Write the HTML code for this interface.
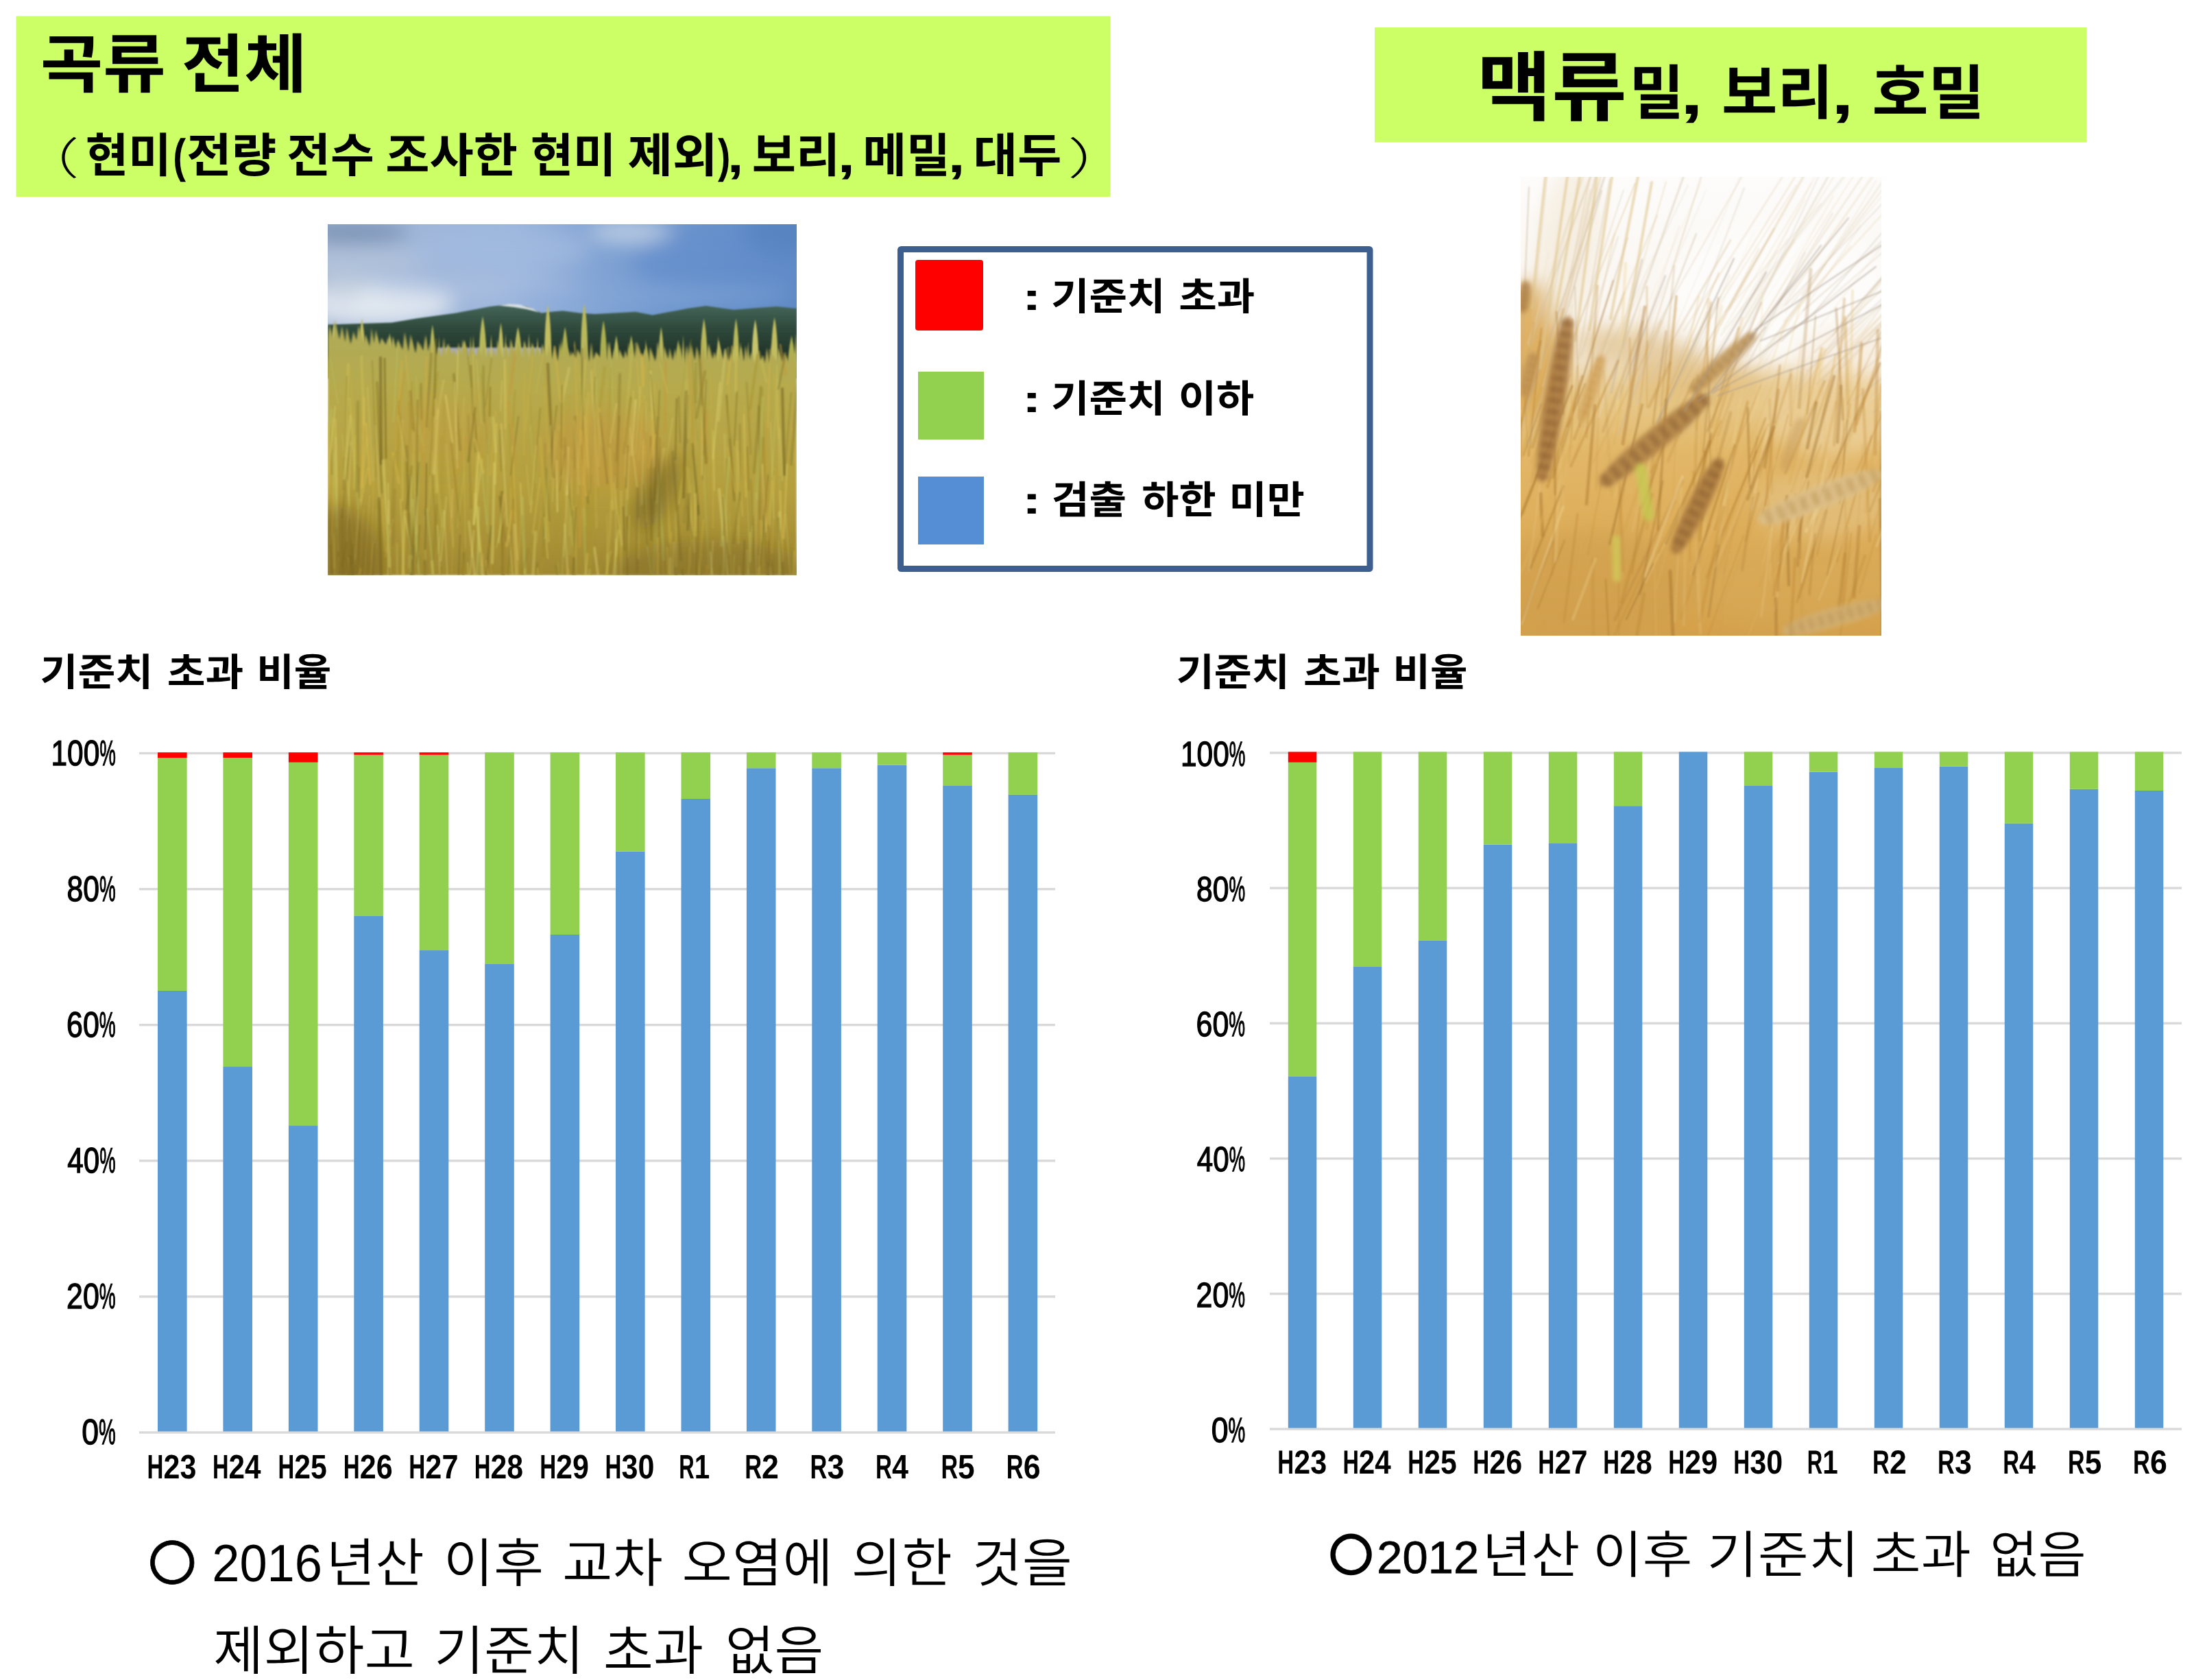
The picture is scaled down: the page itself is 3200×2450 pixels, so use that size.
<!DOCTYPE html>
<html lang="ko"><head><meta charset="utf-8"><title>곡류 전체 / 맥류</title>
<style>html,body{margin:0;padding:0;background:#fff;}body{width:3200px;height:2450px;overflow:hidden;position:relative;}svg{position:absolute;left:0;top:0;display:block;}text{font-family:"Liberation Sans","Noto Sans CJK KR",sans-serif;fill:#000;font-weight:400;text-rendering:geometricPrecision;}.b{font-weight:700;}.ay{stroke:#000;stroke-width:2.6px;}.l{font-weight:300;}.dl{font-weight:350;}.d2{stroke:#000;stroke-width:1.2px;}.c1{stroke:#000;stroke-width:0.5px;}.c2{stroke:#000;stroke-width:1.4px;}</style>
</head><body>
<svg width="3200" height="2450" viewBox="0 0 3200 2450">
<defs>
<clipPath id="c1"><rect x="0" y="0" width="684" height="512"/></clipPath>
<linearGradient id="sk1" x1="0" y1="0" x2="1" y2="0"><stop offset="0" stop-color="#a6b8d4"/><stop offset="0.4" stop-color="#9ab4dc"/><stop offset="0.7" stop-color="#7299cf"/><stop offset="1" stop-color="#5d88c4"/></linearGradient>
<linearGradient id="mt1" x1="0" y1="0" x2="0" y2="1"><stop offset="0" stop-color="#45665a"/><stop offset="0.35" stop-color="#2f4a3c"/><stop offset="1" stop-color="#18241c"/></linearGradient>
<linearGradient id="fd1" x1="0" y1="0" x2="0" y2="1"><stop offset="0" stop-color="#aeab58"/><stop offset="0.3" stop-color="#b7a94c"/><stop offset="0.65" stop-color="#b59f3e"/><stop offset="1" stop-color="#a08832"/></linearGradient>
<filter id="bl14" x="-30%" y="-30%" width="160%" height="160%"><feGaussianBlur stdDeviation="14"/></filter>
<filter id="bl6" x="-30%" y="-30%" width="160%" height="160%"><feGaussianBlur stdDeviation="6"/></filter>
<filter id="bl3" x="-20%" y="-20%" width="140%" height="140%"><feGaussianBlur stdDeviation="3"/></filter>
<filter id="bl2" x="-10%" y="-10%" width="120%" height="120%"><feGaussianBlur stdDeviation="1.6"/></filter>
<filter id="bl1" x="-10%" y="-10%" width="120%" height="120%"><feGaussianBlur stdDeviation="0.9"/></filter>
<clipPath id="c2"><rect x="0" y="0" width="526" height="669"/></clipPath>
<linearGradient id="bg2" x1="0" y1="0" x2="0" y2="1"><stop offset="0" stop-color="#fdfcfb"/><stop offset="0.3" stop-color="#faf6f0"/><stop offset="0.40" stop-color="#f1e2c8"/><stop offset="0.47" stop-color="#e9cc90"/><stop offset="0.6" stop-color="#e2b768"/><stop offset="0.85" stop-color="#dcaa54"/><stop offset="1" stop-color="#d5a04a"/></linearGradient>
</defs>
<rect x="23.5" y="23.5" width="1596" height="263.5" fill="#ccff66"/>
<rect x="2005" y="40" width="1038.5" height="167.5" fill="#ccff66"/>
<g transform="translate(478,327)" clip-path="url(#c1)">
<rect width="684" height="200" fill="url(#sk1)"/>
<g filter="url(#bl14)">
<ellipse cx="37" cy="12" rx="81" ry="19" fill="#7890b4" opacity="0.85"/>
<ellipse cx="47" cy="53" rx="103" ry="19" fill="#b4c4dc" opacity="0.80"/>
<ellipse cx="72" cy="115" rx="112" ry="31" fill="#e3e9f1" opacity="0.97"/>
<ellipse cx="19" cy="94" rx="37" ry="19" fill="#c5cfdf" opacity="0.80"/>
<ellipse cx="249" cy="37" rx="131" ry="34" fill="#a2bbe0" opacity="0.70"/>
<ellipse cx="443" cy="12" rx="62" ry="16" fill="#c2d0e4" opacity="0.90"/>
<ellipse cx="218" cy="94" rx="156" ry="19" fill="#b3c6e4" opacity="0.50"/>
<ellipse cx="577" cy="53" rx="131" ry="50" fill="#628ecb" opacity="0.60"/>
<ellipse cx="670" cy="9" rx="62" ry="37" fill="#5480be" opacity="0.60"/>
<ellipse cx="468" cy="103" rx="218" ry="12" fill="#86a8d8" opacity="0.60"/>
</g>
<polygon points="0.0,146.5 46.8,145.0 93.5,143.4 130.9,137.2 187.1,129.4 236.9,120.0 265.0,116.9 289.9,120.0 311.8,129.4 330.5,127.2 342.9,126.3 367.9,129.4 389.7,130.9 417.8,129.4 448.9,127.8 473.9,132.5 498.8,127.8 523.8,123.1 551.8,119.1 573.6,122.2 592.3,124.7 623.5,122.2 654.7,120.0 684.0,123.1 684,215 0,215" fill="url(#mt1)" filter="url(#bl1)"/>
<polygon points="249.4,118.5 265.0,116.0 280.6,117.2 299.3,123.1 308.6,128.4 289.9,124.1 271.2,121.0" fill="#eef2f8" opacity="0.85" filter="url(#bl1)"/>
<rect x="160" y="180" width="152" height="16" fill="#a9abc0" filter="url(#bl2)"/>
<g filter="url(#bl1)">
<path d="M9.4,141.9 Q15.5,171.9 14.3,225.0 L4.4,225.0 Q3.2,171.9 9.4,141.9 Z" fill="#c8c46c"/>
<path d="M49.9,137.2 Q56.0,167.2 54.8,225.0 L45.0,225.0 Q43.8,167.2 49.9,137.2 Z" fill="#c2bd60"/>
<path d="M71.7,162.1 Q77.2,192.1 76.1,225.0 L67.3,225.0 Q66.2,192.1 71.7,162.1 Z" fill="#c8c46c"/>
<path d="M90.4,159.0 Q97.0,189.0 95.7,225.0 L85.2,225.0 Q83.8,189.0 90.4,159.0 Z" fill="#c2bd60"/>
<path d="M121.6,174.6 Q126.8,204.6 125.8,225.0 L117.4,225.0 Q116.4,204.6 121.6,174.6 Z" fill="#adb050"/>
<path d="M152.8,146.5 Q158.1,176.5 157.0,225.0 L148.5,225.0 Q147.4,176.5 152.8,146.5 Z" fill="#b9b95c"/>
<path d="M174.6,174.6 Q181.1,204.6 179.8,225.0 L169.4,225.0 Q168.1,204.6 174.6,174.6 Z" fill="#c8c46c"/>
<path d="M199.5,168.4 Q206.9,198.4 205.5,225.0 L193.6,225.0 Q192.1,198.4 199.5,168.4 Z" fill="#c2bd60"/>
<path d="M226.0,134.1 Q232.6,164.1 231.3,225.0 L220.8,225.0 Q219.5,164.1 226.0,134.1 Z" fill="#b9b95c"/>
<path d="M252.5,143.4 Q257.7,173.4 256.6,225.0 L248.4,225.0 Q247.4,173.4 252.5,143.4 Z" fill="#c2bd60"/>
<path d="M277.5,149.6 Q284.7,179.6 283.2,225.0 L271.7,225.0 Q270.3,179.6 277.5,149.6 Z" fill="#b9b95c"/>
<path d="M299.3,174.6 Q306.2,204.6 304.8,225.0 L293.7,225.0 Q292.3,204.6 299.3,174.6 Z" fill="#adb050"/>
<path d="M321.1,116.9 Q327.2,146.9 326.0,225.0 L316.2,225.0 Q315.0,146.9 321.1,116.9 Z" fill="#c2bd60"/>
<path d="M346.1,149.6 Q352.4,179.6 351.1,225.0 L341.0,225.0 Q339.8,179.6 346.1,149.6 Z" fill="#adb050"/>
<path d="M374.1,115.4 Q380.4,145.4 379.1,225.0 L369.1,225.0 Q367.9,145.4 374.1,115.4 Z" fill="#b9b95c"/>
<path d="M402.2,140.3 Q408.3,170.3 407.1,225.0 L397.3,225.0 Q396.0,170.3 402.2,140.3 Z" fill="#adb050"/>
<path d="M420.9,162.1 Q426.9,192.1 425.7,225.0 L416.1,225.0 Q414.9,192.1 420.9,162.1 Z" fill="#b9b95c"/>
<path d="M442.7,162.1 Q449.5,192.1 448.1,225.0 L437.3,225.0 Q435.9,192.1 442.7,162.1 Z" fill="#adb050"/>
<path d="M464.5,174.6 Q471.4,204.6 470.0,225.0 L459.0,225.0 Q457.6,204.6 464.5,174.6 Z" fill="#adb050"/>
<path d="M486.3,149.6 Q491.4,179.6 490.4,225.0 L482.3,225.0 Q481.3,179.6 486.3,149.6 Z" fill="#b9b95c"/>
<path d="M511.3,168.4 Q517.3,198.4 516.1,225.0 L506.5,225.0 Q505.3,198.4 511.3,168.4 Z" fill="#adb050"/>
<path d="M548.7,137.2 Q554.7,167.2 553.5,225.0 L543.9,225.0 Q542.7,167.2 548.7,137.2 Z" fill="#b9b95c"/>
<path d="M570.5,168.4 Q577.6,198.4 576.2,225.0 L564.8,225.0 Q563.4,198.4 570.5,168.4 Z" fill="#b9b95c"/>
<path d="M595.5,137.2 Q601.0,167.2 599.9,225.0 L591.0,225.0 Q589.9,167.2 595.5,137.2 Z" fill="#b9b95c"/>
<path d="M623.5,138.7 Q629.7,168.7 628.5,225.0 L618.6,225.0 Q617.3,168.7 623.5,138.7 Z" fill="#c8c46c"/>
<path d="M651.6,135.6 Q657.6,165.6 656.4,225.0 L646.7,225.0 Q645.5,165.6 651.6,135.6 Z" fill="#c2bd60"/>
<path d="M676.5,162.1 Q683.5,192.1 682.1,225.0 L671.0,225.0 Q669.6,192.1 676.5,162.1 Z" fill="#adb050"/>
<path d="M230.4,168.6 L233.5,225.0 L227.4,225.0 Z" fill="#c6bd62"/>
<path d="M518.5,162.0 L522.0,225.0 L515.0,225.0 Z" fill="#b5b055"/>
<path d="M7.5,173.8 L11.5,225.0 L3.5,225.0 Z" fill="#bfb85e"/>
<path d="M306.0,164.5 L310.5,225.0 L301.6,225.0 Z" fill="#bfb85e"/>
<path d="M286.8,171.0 L290.5,225.0 L283.0,225.0 Z" fill="#bfb85e"/>
<path d="M0.3,187.4 L5.3,225.0 L-4.6,225.0 Z" fill="#a8a448"/>
<path d="M682.6,158.7 L685.9,225.0 L679.2,225.0 Z" fill="#b5b055"/>
<path d="M28.8,163.0 L32.7,225.0 L24.9,225.0 Z" fill="#b5b055"/>
<path d="M528.5,169.2 L532.1,225.0 L524.9,225.0 Z" fill="#b5b055"/>
<path d="M50.8,165.1 L55.1,225.0 L46.5,225.0 Z" fill="#b5b055"/>
<path d="M411.3,170.6 L415.2,225.0 L407.4,225.0 Z" fill="#c6bd62"/>
<path d="M569.3,162.6 L573.1,225.0 L565.6,225.0 Z" fill="#bfb85e"/>
<path d="M212.6,165.8 L216.8,225.0 L208.4,225.0 Z" fill="#bfb85e"/>
<path d="M108.4,179.4 L112.5,225.0 L104.3,225.0 Z" fill="#c6bd62"/>
<path d="M603.4,178.5 L607.3,225.0 L599.6,225.0 Z" fill="#b5b055"/>
<path d="M74.6,175.4 L78.1,225.0 L71.1,225.0 Z" fill="#c6bd62"/>
<path d="M175.8,186.0 L180.0,225.0 L171.6,225.0 Z" fill="#a8a448"/>
<path d="M355.7,189.6 L360.7,225.0 L350.8,225.0 Z" fill="#bfb85e"/>
<path d="M156.2,177.0 L160.9,225.0 L151.5,225.0 Z" fill="#b5b055"/>
<path d="M191.7,189.2 L195.1,225.0 L188.3,225.0 Z" fill="#b5b055"/>
<path d="M47.3,172.0 L50.8,225.0 L43.8,225.0 Z" fill="#b5b055"/>
<path d="M120.6,170.5 L124.7,225.0 L116.4,225.0 Z" fill="#bfb85e"/>
<path d="M63.1,162.7 L67.0,225.0 L59.2,225.0 Z" fill="#a8a448"/>
<path d="M449.3,181.5 L453.5,225.0 L445.2,225.0 Z" fill="#bfb85e"/>
<path d="M403.5,189.4 L407.4,225.0 L399.5,225.0 Z" fill="#a8a448"/>
<path d="M479.5,190.7 L482.5,225.0 L476.4,225.0 Z" fill="#b5b055"/>
<path d="M329.8,182.8 L333.5,225.0 L326.2,225.0 Z" fill="#b5b055"/>
<path d="M51.5,176.6 L56.0,225.0 L47.0,225.0 Z" fill="#bfb85e"/>
<path d="M542.6,189.1 L546.3,225.0 L538.9,225.0 Z" fill="#c6bd62"/>
<path d="M616.2,187.6 L620.0,225.0 L612.3,225.0 Z" fill="#b5b055"/>
<path d="M590.6,177.5 L594.9,225.0 L586.4,225.0 Z" fill="#c6bd62"/>
<path d="M259.4,158.4 L262.5,225.0 L256.2,225.0 Z" fill="#b5b055"/>
<path d="M437.4,191.8 L442.1,225.0 L432.6,225.0 Z" fill="#a8a448"/>
<path d="M265.7,183.0 L269.9,225.0 L261.5,225.0 Z" fill="#c6bd62"/>
<path d="M316.4,176.4 L320.5,225.0 L312.4,225.0 Z" fill="#b5b055"/>
<path d="M212.2,161.0 L215.2,225.0 L209.2,225.0 Z" fill="#b5b055"/>
<path d="M340.1,178.9 L345.0,225.0 L335.3,225.0 Z" fill="#a8a448"/>
<path d="M613.2,170.5 L616.4,225.0 L609.9,225.0 Z" fill="#bfb85e"/>
<path d="M354.6,183.6 L358.3,225.0 L350.9,225.0 Z" fill="#c6bd62"/>
<path d="M340.8,166.2 L344.7,225.0 L337.0,225.0 Z" fill="#a8a448"/>
<path d="M135.8,172.7 L140.4,225.0 L131.2,225.0 Z" fill="#bfb85e"/>
<path d="M602.1,171.1 L606.3,225.0 L597.9,225.0 Z" fill="#a8a448"/>
<path d="M143.6,162.6 L147.3,225.0 L139.9,225.0 Z" fill="#b5b055"/>
<path d="M486.5,190.3 L490.0,225.0 L482.9,225.0 Z" fill="#bfb85e"/>
<path d="M77.2,174.0 L82.0,225.0 L72.3,225.0 Z" fill="#c6bd62"/>
<path d="M261.7,175.7 L266.0,225.0 L257.3,225.0 Z" fill="#c6bd62"/>
<path d="M219.1,186.2 L222.7,225.0 L215.6,225.0 Z" fill="#b5b055"/>
<path d="M463.9,167.6 L467.6,225.0 L460.2,225.0 Z" fill="#b5b055"/>
<path d="M438.4,171.8 L441.8,225.0 L435.1,225.0 Z" fill="#a8a448"/>
<path d="M162.4,162.8 L165.5,225.0 L159.3,225.0 Z" fill="#b5b055"/>
<path d="M305.4,179.4 L309.7,225.0 L301.1,225.0 Z" fill="#a8a448"/>
<path d="M655.6,181.3 L659.0,225.0 L652.2,225.0 Z" fill="#c6bd62"/>
<path d="M175.1,182.3 L179.6,225.0 L170.6,225.0 Z" fill="#b5b055"/>
<path d="M122.5,167.3 L126.2,225.0 L118.8,225.0 Z" fill="#bfb85e"/>
<path d="M269.2,184.9 L274.0,225.0 L264.4,225.0 Z" fill="#b5b055"/>
<path d="M280.8,188.4 L284.5,225.0 L277.0,225.0 Z" fill="#c6bd62"/>
<path d="M310.2,179.3 L315.0,225.0 L305.4,225.0 Z" fill="#c6bd62"/>
<path d="M376.2,180.2 L380.2,225.0 L372.2,225.0 Z" fill="#a8a448"/>
<path d="M317.2,180.1 L320.6,225.0 L313.8,225.0 Z" fill="#b5b055"/>
<path d="M145.9,188.6 L150.9,225.0 L140.9,225.0 Z" fill="#a8a448"/>
<path d="M367.3,184.9 L370.9,225.0 L363.6,225.0 Z" fill="#b5b055"/>
<path d="M238.4,160.8 L242.3,225.0 L234.5,225.0 Z" fill="#c6bd62"/>
<path d="M525.5,174.6 L528.5,225.0 L522.4,225.0 Z" fill="#b5b055"/>
<path d="M293.4,159.2 L297.5,225.0 L289.3,225.0 Z" fill="#bfb85e"/>
<path d="M321.9,192.0 L326.7,225.0 L317.1,225.0 Z" fill="#c6bd62"/>
<path d="M646.9,174.7 L651.8,225.0 L642.0,225.0 Z" fill="#b5b055"/>
<path d="M518.4,172.9 L522.5,225.0 L514.2,225.0 Z" fill="#bfb85e"/>
<path d="M357.6,186.7 L361.7,225.0 L353.5,225.0 Z" fill="#a8a448"/>
<path d="M459.2,190.5 L463.9,225.0 L454.4,225.0 Z" fill="#bfb85e"/>
<path d="M208.2,162.8 L212.3,225.0 L204.2,225.0 Z" fill="#a8a448"/>
</g>
<polygon points="0.0,166.6 2.4,146.4 8.5,168.1 10.6,139.8 17.1,167.8 20.7,148.4 25.6,171.4 27.7,150.1 33.6,174.7 37.5,156.2 42.0,169.3 44.9,147.6 52.5,173.7 55.1,160.4 61.6,178.6 63.8,151.2 67.7,173.7 70.1,153.8 75.3,176.1 78.5,165.4 85.0,175.7 88.0,164.2 91.9,180.0 94.8,163.0 100.0,181.2 102.3,167.3 109.2,183.5 112.2,157.1 118.2,186.6 120.7,160.4 128.3,188.5 130.9,169.6 138.9,184.6 142.9,160.9 145.6,185.7 149.0,173.2 152.0,194.8 154.9,167.9 158.7,191.5 162.0,181.9 165.7,193.9 169.5,165.0 172.3,192.6 175.8,173.5 181.7,190.2 183.8,180.8 187.9,193.3 190.9,172.6 194.6,190.5 197.0,167.9 205.6,196.6 207.8,182.1 216.3,193.1 219.8,177.5 224.7,193.7 227.5,172.8 230.7,195.3 234.4,180.5 239.0,195.8 241.8,180.4 245.8,194.1 247.8,168.0 255.8,195.9 259.5,172.9 263.8,195.2 266.9,166.7 273.9,192.7 277.7,171.2 283.8,197.3 286.6,168.7 294.2,196.6 297.7,171.2 302.2,197.0 304.3,179.0 310.5,191.4 313.2,173.9 319.7,193.4 323.5,173.6 327.3,197.0 330.5,176.1 335.3,199.9 338.6,173.2 345.1,199.9 347.1,175.0 354.8,194.3 357.6,185.4 361.8,195.4 364.0,181.9 372.3,197.0 375.3,169.2 381.1,200.8 384.4,172.2 387.5,197.7 391.0,186.1 398.2,194.4 401.1,184.1 406.6,198.2 408.8,170.3 414.7,197.7 417.9,180.9 422.2,198.9 425.3,182.5 431.8,196.2 433.8,183.4 438.0,195.2 441.5,180.9 448.5,200.2 450.6,170.4 459.2,195.0 463.0,180.7 467.6,202.4 470.1,179.1 478.3,200.6 481.2,171.2 488.3,199.8 490.6,177.8 496.6,196.8 498.7,179.7 503.2,198.8 506.6,181.1 510.6,200.1 513.4,175.4 519.2,203.6 523.1,176.4 526.4,196.7 530.2,175.7 535.5,198.8 538.1,177.6 544.3,200.9 547.6,176.6 551.3,198.3 555.3,173.8 561.7,196.8 563.8,185.6 569.8,201.6 572.0,180.9 576.2,197.5 579.5,180.9 585.3,200.0 588.3,187.2 593.1,203.1 596.7,189.8 599.7,203.7 602.9,177.4 606.7,200.8 609.2,176.8 614.6,202.8 618.5,185.7 623.3,203.7 627.1,184.1 631.2,198.7 634.9,190.5 637.6,202.6 640.5,179.7 645.1,204.4 647.2,188.4 654.4,199.0 657.0,179.3 663.8,200.9 666.1,186.1 673.5,201.7 675.7,180.0 682.3,206.3 686.2,176.5 684.0,200.0 684,512 0,512" fill="url(#fd1)" filter="url(#bl2)"/>
<g filter="url(#bl1)" stroke-linecap="round">
<line x1="553" y1="271" x2="551" y2="352" stroke="#c49a3a" stroke-width="4.2" opacity="0.30"/>
<line x1="246" y1="291" x2="244" y2="378" stroke="#d6c458" stroke-width="3.9" opacity="0.46"/>
<line x1="251" y1="300" x2="253" y2="360" stroke="#8a7a2a" stroke-width="2.0" opacity="0.47"/>
<line x1="607" y1="263" x2="608" y2="306" stroke="#c9b044" stroke-width="2.0" opacity="0.32"/>
<line x1="11" y1="452" x2="12" y2="547" stroke="#cfc058" stroke-width="3.9" opacity="0.25"/>
<line x1="52" y1="416" x2="42" y2="573" stroke="#d9b84c" stroke-width="3.5" opacity="0.25"/>
<line x1="562" y1="310" x2="562" y2="443" stroke="#c9b044" stroke-width="2.5" opacity="0.37"/>
<line x1="239" y1="440" x2="230" y2="523" stroke="#6f601f" stroke-width="3.1" opacity="0.46"/>
<line x1="487" y1="476" x2="495" y2="570" stroke="#d9b84c" stroke-width="2.5" opacity="0.22"/>
<line x1="258" y1="198" x2="259" y2="298" stroke="#d8cf6a" stroke-width="3.1" opacity="0.45"/>
<line x1="553" y1="310" x2="544" y2="405" stroke="#c49a3a" stroke-width="2.0" opacity="0.43"/>
<line x1="470" y1="276" x2="471" y2="367" stroke="#cfc058" stroke-width="4.4" opacity="0.24"/>
<line x1="209" y1="207" x2="216" y2="331" stroke="#8a7a2a" stroke-width="4.2" opacity="0.47"/>
<line x1="7" y1="330" x2="2" y2="474" stroke="#7d6c24" stroke-width="2.1" opacity="0.29"/>
<line x1="159" y1="410" x2="152" y2="527" stroke="#8a7a2a" stroke-width="4.2" opacity="0.35"/>
<line x1="628" y1="484" x2="639" y2="605" stroke="#c9b044" stroke-width="2.9" opacity="0.31"/>
<line x1="612" y1="476" x2="613" y2="561" stroke="#e0d478" stroke-width="2.9" opacity="0.29"/>
<line x1="30" y1="487" x2="27" y2="631" stroke="#c9b044" stroke-width="3.9" opacity="0.48"/>
<line x1="542" y1="188" x2="552" y2="348" stroke="#6f601f" stroke-width="4.2" opacity="0.37"/>
<line x1="166" y1="310" x2="164" y2="464" stroke="#a8962f" stroke-width="1.9" opacity="0.52"/>
<line x1="558" y1="212" x2="561" y2="349" stroke="#c9b044" stroke-width="3.1" opacity="0.27"/>
<line x1="530" y1="168" x2="539" y2="315" stroke="#8a7a2a" stroke-width="1.7" opacity="0.31"/>
<line x1="493" y1="201" x2="492" y2="303" stroke="#c49a3a" stroke-width="3.3" opacity="0.50"/>
<line x1="206" y1="434" x2="216" y2="528" stroke="#e0d478" stroke-width="3.8" opacity="0.37"/>
<line x1="21" y1="307" x2="32" y2="411" stroke="#cfc058" stroke-width="2.4" opacity="0.35"/>
<line x1="382" y1="504" x2="371" y2="631" stroke="#e0d478" stroke-width="3.6" opacity="0.25"/>
<line x1="269" y1="324" x2="277" y2="489" stroke="#d9b84c" stroke-width="2.8" opacity="0.51"/>
<line x1="490" y1="328" x2="480" y2="406" stroke="#d8cf6a" stroke-width="4.1" opacity="0.50"/>
<line x1="495" y1="472" x2="498" y2="532" stroke="#c9b044" stroke-width="3.7" opacity="0.53"/>
<line x1="520" y1="355" x2="512" y2="407" stroke="#d6c458" stroke-width="3.7" opacity="0.33"/>
<line x1="652" y1="358" x2="648" y2="492" stroke="#d6c458" stroke-width="1.8" opacity="0.27"/>
<line x1="61" y1="396" x2="53" y2="528" stroke="#d6c458" stroke-width="1.6" opacity="0.37"/>
<line x1="484" y1="202" x2="496" y2="246" stroke="#d6c458" stroke-width="2.7" opacity="0.24"/>
<line x1="635" y1="312" x2="638" y2="418" stroke="#8a7a2a" stroke-width="4.0" opacity="0.35"/>
<line x1="225" y1="307" x2="223" y2="349" stroke="#c49a3a" stroke-width="2.5" opacity="0.48"/>
<line x1="165" y1="500" x2="160" y2="609" stroke="#7d6c24" stroke-width="2.5" opacity="0.43"/>
<line x1="69" y1="295" x2="76" y2="401" stroke="#e0d478" stroke-width="3.3" opacity="0.27"/>
<line x1="528" y1="472" x2="524" y2="584" stroke="#c9b044" stroke-width="3.0" opacity="0.41"/>
<line x1="133" y1="483" x2="138" y2="652" stroke="#7d6c24" stroke-width="3.2" opacity="0.23"/>
<line x1="453" y1="430" x2="453" y2="487" stroke="#d6c458" stroke-width="3.6" opacity="0.33"/>
<line x1="641" y1="290" x2="632" y2="390" stroke="#c49a3a" stroke-width="1.9" opacity="0.52"/>
<line x1="373" y1="357" x2="367" y2="470" stroke="#c49a3a" stroke-width="4.5" opacity="0.49"/>
<line x1="413" y1="209" x2="408" y2="357" stroke="#a8962f" stroke-width="2.2" opacity="0.41"/>
<line x1="572" y1="231" x2="562" y2="342" stroke="#d8cf6a" stroke-width="2.7" opacity="0.48"/>
<line x1="641" y1="505" x2="647" y2="563" stroke="#c49a3a" stroke-width="4.2" opacity="0.42"/>
<line x1="440" y1="425" x2="438" y2="486" stroke="#d8cf6a" stroke-width="1.9" opacity="0.35"/>
<line x1="391" y1="227" x2="385" y2="334" stroke="#b9c060" stroke-width="4.3" opacity="0.24"/>
<line x1="540" y1="411" x2="538" y2="554" stroke="#6f601f" stroke-width="3.3" opacity="0.38"/>
<line x1="281" y1="378" x2="287" y2="508" stroke="#cfc058" stroke-width="3.0" opacity="0.55"/>
<line x1="578" y1="456" x2="576" y2="549" stroke="#b9c060" stroke-width="1.8" opacity="0.53"/>
<line x1="225" y1="343" x2="213" y2="438" stroke="#d8cf6a" stroke-width="2.4" opacity="0.42"/>
<line x1="296" y1="295" x2="303" y2="377" stroke="#b9c060" stroke-width="4.1" opacity="0.30"/>
<line x1="582" y1="250" x2="593" y2="403" stroke="#6f601f" stroke-width="3.6" opacity="0.39"/>
<line x1="161" y1="271" x2="155" y2="363" stroke="#e0d478" stroke-width="4.5" opacity="0.46"/>
<line x1="601" y1="292" x2="602" y2="403" stroke="#8a7a2a" stroke-width="2.2" opacity="0.47"/>
<line x1="389" y1="472" x2="396" y2="525" stroke="#e0d478" stroke-width="4.1" opacity="0.41"/>
<line x1="310" y1="268" x2="299" y2="402" stroke="#8a7a2a" stroke-width="1.7" opacity="0.52"/>
<line x1="562" y1="302" x2="564" y2="388" stroke="#d8cf6a" stroke-width="2.4" opacity="0.37"/>
<line x1="213" y1="277" x2="220" y2="336" stroke="#6f601f" stroke-width="4.1" opacity="0.29"/>
<line x1="592" y1="401" x2="588" y2="449" stroke="#a8962f" stroke-width="4.2" opacity="0.23"/>
<line x1="437" y1="403" x2="437" y2="516" stroke="#7d6c24" stroke-width="2.1" opacity="0.51"/>
<line x1="30" y1="204" x2="25" y2="338" stroke="#cfc058" stroke-width="4.1" opacity="0.46"/>
<line x1="89" y1="403" x2="87" y2="564" stroke="#e0d478" stroke-width="2.0" opacity="0.50"/>
<line x1="79" y1="401" x2="84" y2="476" stroke="#c9b044" stroke-width="3.5" opacity="0.48"/>
<line x1="254" y1="391" x2="256" y2="546" stroke="#7d6c24" stroke-width="4.4" opacity="0.52"/>
<line x1="120" y1="244" x2="125" y2="301" stroke="#6f601f" stroke-width="4.4" opacity="0.37"/>
<line x1="362" y1="347" x2="365" y2="393" stroke="#cfc058" stroke-width="3.1" opacity="0.36"/>
<line x1="390" y1="223" x2="383" y2="392" stroke="#8a7a2a" stroke-width="2.3" opacity="0.40"/>
<line x1="125" y1="470" x2="113" y2="639" stroke="#6f601f" stroke-width="4.2" opacity="0.41"/>
<line x1="-3" y1="468" x2="-14" y2="516" stroke="#d9b84c" stroke-width="4.2" opacity="0.33"/>
<line x1="331" y1="179" x2="339" y2="257" stroke="#d9b84c" stroke-width="3.6" opacity="0.39"/>
<line x1="656" y1="227" x2="648" y2="368" stroke="#b9c060" stroke-width="2.8" opacity="0.44"/>
<line x1="376" y1="254" x2="381" y2="387" stroke="#cfc058" stroke-width="3.0" opacity="0.29"/>
<line x1="398" y1="336" x2="400" y2="381" stroke="#c49a3a" stroke-width="1.7" opacity="0.37"/>
<line x1="607" y1="278" x2="610" y2="397" stroke="#d6c458" stroke-width="3.0" opacity="0.46"/>
<line x1="590" y1="178" x2="583" y2="233" stroke="#d9b84c" stroke-width="3.1" opacity="0.48"/>
<line x1="160" y1="217" x2="149" y2="298" stroke="#a8962f" stroke-width="4.0" opacity="0.46"/>
<line x1="538" y1="426" x2="541" y2="531" stroke="#c9b044" stroke-width="2.0" opacity="0.30"/>
<line x1="106" y1="401" x2="113" y2="549" stroke="#d8cf6a" stroke-width="2.4" opacity="0.37"/>
<line x1="481" y1="405" x2="472" y2="570" stroke="#b9c060" stroke-width="4.5" opacity="0.27"/>
<line x1="311" y1="419" x2="305" y2="464" stroke="#c9b044" stroke-width="1.9" opacity="0.35"/>
<line x1="202" y1="311" x2="191" y2="361" stroke="#c49a3a" stroke-width="3.8" opacity="0.46"/>
<line x1="155" y1="253" x2="149" y2="365" stroke="#6f601f" stroke-width="1.8" opacity="0.29"/>
<line x1="210" y1="487" x2="203" y2="647" stroke="#8a7a2a" stroke-width="2.7" opacity="0.43"/>
<line x1="36" y1="284" x2="44" y2="414" stroke="#b9c060" stroke-width="4.3" opacity="0.28"/>
<line x1="593" y1="483" x2="590" y2="551" stroke="#d8cf6a" stroke-width="2.1" opacity="0.33"/>
<line x1="123" y1="353" x2="115" y2="415" stroke="#7d6c24" stroke-width="3.3" opacity="0.47"/>
<line x1="323" y1="333" x2="316" y2="455" stroke="#6f601f" stroke-width="2.1" opacity="0.35"/>
<line x1="46" y1="401" x2="40" y2="488" stroke="#d8cf6a" stroke-width="3.1" opacity="0.46"/>
<line x1="351" y1="359" x2="344" y2="484" stroke="#e0d478" stroke-width="2.6" opacity="0.27"/>
<line x1="646" y1="289" x2="651" y2="429" stroke="#e0d478" stroke-width="1.6" opacity="0.33"/>
<line x1="262" y1="196" x2="258" y2="351" stroke="#c9b044" stroke-width="3.5" opacity="0.32"/>
<line x1="418" y1="333" x2="418" y2="397" stroke="#8a7a2a" stroke-width="1.6" opacity="0.32"/>
<line x1="290" y1="351" x2="295" y2="409" stroke="#cfc058" stroke-width="2.4" opacity="0.37"/>
<line x1="257" y1="465" x2="258" y2="613" stroke="#6f601f" stroke-width="2.7" opacity="0.35"/>
<line x1="597" y1="244" x2="593" y2="322" stroke="#7d6c24" stroke-width="1.9" opacity="0.50"/>
<line x1="514" y1="331" x2="521" y2="372" stroke="#c49a3a" stroke-width="2.4" opacity="0.44"/>
<line x1="634" y1="241" x2="638" y2="370" stroke="#a8962f" stroke-width="2.2" opacity="0.43"/>
<line x1="57" y1="312" x2="47" y2="403" stroke="#d6c458" stroke-width="4.3" opacity="0.31"/>
<line x1="484" y1="243" x2="477" y2="403" stroke="#8a7a2a" stroke-width="2.6" opacity="0.46"/>
<line x1="357" y1="418" x2="364" y2="576" stroke="#6f601f" stroke-width="3.2" opacity="0.45"/>
<line x1="379" y1="404" x2="377" y2="447" stroke="#a8962f" stroke-width="4.2" opacity="0.52"/>
<line x1="184" y1="295" x2="179" y2="445" stroke="#c49a3a" stroke-width="2.5" opacity="0.30"/>
<line x1="11" y1="285" x2="13" y2="441" stroke="#cfc058" stroke-width="3.9" opacity="0.51"/>
<line x1="441" y1="298" x2="451" y2="382" stroke="#d8cf6a" stroke-width="3.2" opacity="0.53"/>
<line x1="531" y1="379" x2="529" y2="500" stroke="#d6c458" stroke-width="1.7" opacity="0.24"/>
<line x1="317" y1="320" x2="315" y2="485" stroke="#8a7a2a" stroke-width="3.6" opacity="0.31"/>
<line x1="339" y1="327" x2="342" y2="370" stroke="#cfc058" stroke-width="2.2" opacity="0.44"/>
<line x1="158" y1="168" x2="155" y2="279" stroke="#7d6c24" stroke-width="3.1" opacity="0.50"/>
<line x1="527" y1="195" x2="536" y2="342" stroke="#c49a3a" stroke-width="4.4" opacity="0.33"/>
<line x1="236" y1="467" x2="241" y2="547" stroke="#c49a3a" stroke-width="2.7" opacity="0.27"/>
<line x1="129" y1="222" x2="133" y2="306" stroke="#b9c060" stroke-width="2.4" opacity="0.36"/>
<line x1="250" y1="393" x2="253" y2="498" stroke="#a8962f" stroke-width="2.5" opacity="0.28"/>
<line x1="352" y1="210" x2="342" y2="259" stroke="#e0d478" stroke-width="4.2" opacity="0.32"/>
<line x1="585" y1="341" x2="574" y2="469" stroke="#b9c060" stroke-width="4.1" opacity="0.51"/>
<line x1="32" y1="254" x2="39" y2="360" stroke="#d6c458" stroke-width="2.3" opacity="0.43"/>
<line x1="251" y1="398" x2="259" y2="462" stroke="#7d6c24" stroke-width="4.0" opacity="0.49"/>
<line x1="389" y1="310" x2="392" y2="442" stroke="#cfc058" stroke-width="3.9" opacity="0.26"/>
<line x1="257" y1="394" x2="249" y2="464" stroke="#d8cf6a" stroke-width="2.9" opacity="0.45"/>
<line x1="545" y1="481" x2="539" y2="555" stroke="#cfc058" stroke-width="3.4" opacity="0.35"/>
<line x1="644" y1="501" x2="649" y2="548" stroke="#e0d478" stroke-width="4.1" opacity="0.28"/>
<line x1="243" y1="349" x2="240" y2="494" stroke="#d8cf6a" stroke-width="4.0" opacity="0.50"/>
<line x1="114" y1="191" x2="123" y2="288" stroke="#d9b84c" stroke-width="2.4" opacity="0.35"/>
<line x1="424" y1="426" x2="422" y2="593" stroke="#c49a3a" stroke-width="2.1" opacity="0.31"/>
<line x1="597" y1="317" x2="599" y2="465" stroke="#cfc058" stroke-width="4.1" opacity="0.36"/>
<line x1="101" y1="466" x2="102" y2="541" stroke="#cfc058" stroke-width="3.4" opacity="0.31"/>
<line x1="153" y1="331" x2="147" y2="418" stroke="#d8cf6a" stroke-width="2.0" opacity="0.22"/>
<line x1="524" y1="394" x2="520" y2="434" stroke="#8a7a2a" stroke-width="4.5" opacity="0.29"/>
<line x1="598" y1="331" x2="605" y2="425" stroke="#d6c458" stroke-width="3.2" opacity="0.29"/>
<line x1="424" y1="447" x2="416" y2="520" stroke="#cfc058" stroke-width="4.1" opacity="0.55"/>
<line x1="303" y1="449" x2="295" y2="583" stroke="#d8cf6a" stroke-width="4.3" opacity="0.40"/>
<line x1="464" y1="259" x2="465" y2="302" stroke="#e0d478" stroke-width="3.0" opacity="0.22"/>
<line x1="141" y1="491" x2="142" y2="533" stroke="#7d6c24" stroke-width="3.9" opacity="0.46"/>
<line x1="272" y1="439" x2="279" y2="586" stroke="#e0d478" stroke-width="4.3" opacity="0.38"/>
<line x1="579" y1="306" x2="582" y2="463" stroke="#d8cf6a" stroke-width="3.2" opacity="0.29"/>
<line x1="265" y1="292" x2="272" y2="418" stroke="#a8962f" stroke-width="3.4" opacity="0.37"/>
<line x1="212" y1="190" x2="214" y2="315" stroke="#cfc058" stroke-width="2.5" opacity="0.46"/>
<line x1="142" y1="418" x2="146" y2="529" stroke="#8a7a2a" stroke-width="2.5" opacity="0.27"/>
<line x1="254" y1="229" x2="252" y2="272" stroke="#d8cf6a" stroke-width="2.7" opacity="0.33"/>
<line x1="368" y1="489" x2="377" y2="556" stroke="#a8962f" stroke-width="1.7" opacity="0.41"/>
<line x1="397" y1="276" x2="408" y2="378" stroke="#6f601f" stroke-width="2.7" opacity="0.45"/>
<line x1="119" y1="260" x2="129" y2="388" stroke="#a8962f" stroke-width="4.1" opacity="0.48"/>
<line x1="360" y1="171" x2="364" y2="306" stroke="#d9b84c" stroke-width="1.7" opacity="0.42"/>
<line x1="234" y1="316" x2="233" y2="449" stroke="#b9c060" stroke-width="4.3" opacity="0.26"/>
<line x1="508" y1="419" x2="508" y2="515" stroke="#d6c458" stroke-width="3.0" opacity="0.34"/>
<line x1="371" y1="182" x2="372" y2="342" stroke="#6f601f" stroke-width="2.8" opacity="0.42"/>
<line x1="408" y1="482" x2="407" y2="542" stroke="#cfc058" stroke-width="3.7" opacity="0.32"/>
<line x1="507" y1="501" x2="516" y2="594" stroke="#8a7a2a" stroke-width="3.8" opacity="0.52"/>
<line x1="72" y1="231" x2="79" y2="391" stroke="#8a7a2a" stroke-width="4.0" opacity="0.48"/>
<line x1="351" y1="503" x2="359" y2="551" stroke="#c49a3a" stroke-width="2.5" opacity="0.39"/>
<line x1="237" y1="238" x2="236" y2="280" stroke="#6f601f" stroke-width="2.3" opacity="0.43"/>
<line x1="46" y1="355" x2="46" y2="497" stroke="#7d6c24" stroke-width="1.7" opacity="0.38"/>
<line x1="34" y1="461" x2="23" y2="628" stroke="#8a7a2a" stroke-width="3.9" opacity="0.28"/>
<line x1="227" y1="481" x2="220" y2="645" stroke="#cfc058" stroke-width="1.9" opacity="0.28"/>
<line x1="265" y1="454" x2="275" y2="574" stroke="#e0d478" stroke-width="1.8" opacity="0.43"/>
<line x1="365" y1="275" x2="376" y2="439" stroke="#c9b044" stroke-width="3.5" opacity="0.36"/>
<line x1="6" y1="282" x2="9" y2="363" stroke="#cfc058" stroke-width="3.5" opacity="0.29"/>
<line x1="141" y1="426" x2="143" y2="489" stroke="#d8cf6a" stroke-width="1.9" opacity="0.26"/>
<line x1="649" y1="374" x2="642" y2="460" stroke="#e0d478" stroke-width="3.6" opacity="0.46"/>
<line x1="245" y1="273" x2="237" y2="366" stroke="#d9b84c" stroke-width="2.3" opacity="0.34"/>
<line x1="421" y1="262" x2="412" y2="319" stroke="#e0d478" stroke-width="2.5" opacity="0.45"/>
<line x1="158" y1="363" x2="167" y2="440" stroke="#cfc058" stroke-width="4.4" opacity="0.25"/>
<line x1="446" y1="244" x2="438" y2="346" stroke="#d6c458" stroke-width="3.3" opacity="0.37"/>
<line x1="40" y1="309" x2="38" y2="386" stroke="#cfc058" stroke-width="2.4" opacity="0.45"/>
<line x1="462" y1="250" x2="453" y2="344" stroke="#cfc058" stroke-width="2.7" opacity="0.31"/>
<line x1="66" y1="465" x2="56" y2="605" stroke="#d9b84c" stroke-width="1.8" opacity="0.52"/>
<line x1="56" y1="291" x2="62" y2="379" stroke="#d9b84c" stroke-width="3.6" opacity="0.55"/>
<line x1="562" y1="462" x2="554" y2="589" stroke="#e0d478" stroke-width="2.6" opacity="0.37"/>
<line x1="215" y1="394" x2="226" y2="513" stroke="#d8cf6a" stroke-width="4.5" opacity="0.35"/>
<line x1="571" y1="387" x2="583" y2="518" stroke="#e0d478" stroke-width="4.5" opacity="0.44"/>
<line x1="544" y1="482" x2="546" y2="589" stroke="#6f601f" stroke-width="2.6" opacity="0.27"/>
<line x1="269" y1="418" x2="261" y2="469" stroke="#d9b84c" stroke-width="3.6" opacity="0.48"/>
<line x1="625" y1="392" x2="624" y2="558" stroke="#e0d478" stroke-width="2.8" opacity="0.27"/>
<line x1="253" y1="291" x2="262" y2="440" stroke="#e0d478" stroke-width="2.6" opacity="0.40"/>
<line x1="366" y1="205" x2="361" y2="348" stroke="#c9b044" stroke-width="3.2" opacity="0.24"/>
<line x1="160" y1="391" x2="156" y2="498" stroke="#a8962f" stroke-width="3.8" opacity="0.30"/>
<line x1="283" y1="186" x2="282" y2="255" stroke="#c9b044" stroke-width="1.8" opacity="0.27"/>
<line x1="619" y1="441" x2="611" y2="546" stroke="#b9c060" stroke-width="3.1" opacity="0.35"/>
<line x1="420" y1="459" x2="418" y2="624" stroke="#d8cf6a" stroke-width="2.2" opacity="0.48"/>
<line x1="71" y1="416" x2="66" y2="505" stroke="#b9c060" stroke-width="1.6" opacity="0.26"/>
<line x1="204" y1="494" x2="212" y2="617" stroke="#d8cf6a" stroke-width="2.7" opacity="0.32"/>
<line x1="144" y1="349" x2="142" y2="474" stroke="#6f601f" stroke-width="2.1" opacity="0.55"/>
<line x1="384" y1="214" x2="395" y2="382" stroke="#e0d478" stroke-width="2.7" opacity="0.32"/>
<line x1="509" y1="255" x2="507" y2="343" stroke="#6f601f" stroke-width="2.7" opacity="0.43"/>
<line x1="227" y1="207" x2="228" y2="288" stroke="#8a7a2a" stroke-width="3.1" opacity="0.40"/>
<line x1="273" y1="243" x2="270" y2="296" stroke="#a8962f" stroke-width="2.6" opacity="0.53"/>
<line x1="356" y1="346" x2="353" y2="481" stroke="#b9c060" stroke-width="4.4" opacity="0.22"/>
<line x1="407" y1="492" x2="410" y2="579" stroke="#a8962f" stroke-width="4.0" opacity="0.29"/>
<line x1="525" y1="187" x2="516" y2="251" stroke="#a8962f" stroke-width="1.7" opacity="0.25"/>
<line x1="170" y1="259" x2="168" y2="402" stroke="#a8962f" stroke-width="2.7" opacity="0.31"/>
<line x1="468" y1="197" x2="475" y2="365" stroke="#a8962f" stroke-width="1.6" opacity="0.27"/>
<line x1="103" y1="264" x2="115" y2="341" stroke="#6f601f" stroke-width="1.6" opacity="0.43"/>
<line x1="379" y1="481" x2="367" y2="604" stroke="#d9b84c" stroke-width="3.8" opacity="0.41"/>
<line x1="-1" y1="416" x2="3" y2="511" stroke="#e0d478" stroke-width="2.0" opacity="0.25"/>
<line x1="471" y1="215" x2="476" y2="354" stroke="#e0d478" stroke-width="2.8" opacity="0.52"/>
<line x1="501" y1="450" x2="497" y2="614" stroke="#c9b044" stroke-width="3.6" opacity="0.45"/>
<line x1="271" y1="401" x2="262" y2="526" stroke="#7d6c24" stroke-width="1.8" opacity="0.33"/>
<line x1="92" y1="487" x2="87" y2="547" stroke="#d6c458" stroke-width="1.6" opacity="0.36"/>
<line x1="257" y1="395" x2="257" y2="556" stroke="#c49a3a" stroke-width="3.9" opacity="0.39"/>
<line x1="330" y1="353" x2="336" y2="504" stroke="#a8962f" stroke-width="2.1" opacity="0.33"/>
<line x1="109" y1="286" x2="109" y2="403" stroke="#d6c458" stroke-width="2.9" opacity="0.41"/>
<line x1="316" y1="428" x2="321" y2="487" stroke="#d6c458" stroke-width="2.5" opacity="0.45"/>
<line x1="157" y1="256" x2="159" y2="391" stroke="#cfc058" stroke-width="4.3" opacity="0.48"/>
<line x1="172" y1="250" x2="182" y2="318" stroke="#e0d478" stroke-width="3.2" opacity="0.54"/>
<line x1="627" y1="322" x2="621" y2="425" stroke="#b9c060" stroke-width="1.8" opacity="0.32"/>
<line x1="584" y1="180" x2="586" y2="311" stroke="#c9b044" stroke-width="3.0" opacity="0.38"/>
<line x1="305" y1="495" x2="301" y2="582" stroke="#7d6c24" stroke-width="3.9" opacity="0.29"/>
<line x1="133" y1="348" x2="124" y2="468" stroke="#7d6c24" stroke-width="3.2" opacity="0.52"/>
<line x1="637" y1="400" x2="648" y2="488" stroke="#c49a3a" stroke-width="3.9" opacity="0.42"/>
<line x1="572" y1="499" x2="569" y2="553" stroke="#8a7a2a" stroke-width="3.1" opacity="0.30"/>
<line x1="199" y1="253" x2="198" y2="310" stroke="#cfc058" stroke-width="1.6" opacity="0.48"/>
<line x1="651" y1="219" x2="658" y2="310" stroke="#c9b044" stroke-width="4.1" opacity="0.42"/>
<line x1="373" y1="415" x2="377" y2="525" stroke="#b9c060" stroke-width="3.8" opacity="0.31"/>
<line x1="33" y1="484" x2="40" y2="571" stroke="#7d6c24" stroke-width="2.9" opacity="0.45"/>
<line x1="235" y1="241" x2="230" y2="364" stroke="#c49a3a" stroke-width="2.5" opacity="0.30"/>
<line x1="655" y1="205" x2="659" y2="367" stroke="#e0d478" stroke-width="2.4" opacity="0.22"/>
<line x1="644" y1="492" x2="641" y2="557" stroke="#a8962f" stroke-width="4.1" opacity="0.24"/>
<line x1="458" y1="191" x2="460" y2="235" stroke="#d9b84c" stroke-width="4.4" opacity="0.54"/>
<line x1="634" y1="351" x2="639" y2="448" stroke="#e0d478" stroke-width="3.1" opacity="0.34"/>
<line x1="342" y1="235" x2="340" y2="366" stroke="#6f601f" stroke-width="2.1" opacity="0.45"/>
<line x1="16" y1="485" x2="6" y2="642" stroke="#cfc058" stroke-width="2.3" opacity="0.29"/>
<line x1="184" y1="219" x2="193" y2="329" stroke="#8a7a2a" stroke-width="4.1" opacity="0.53"/>
<line x1="9" y1="333" x2="13" y2="450" stroke="#b9c060" stroke-width="4.2" opacity="0.32"/>
<line x1="113" y1="427" x2="123" y2="488" stroke="#e0d478" stroke-width="1.8" opacity="0.51"/>
<line x1="660" y1="176" x2="668" y2="220" stroke="#c49a3a" stroke-width="3.3" opacity="0.50"/>
<line x1="528" y1="394" x2="525" y2="445" stroke="#7d6c24" stroke-width="4.4" opacity="0.50"/>
<line x1="278" y1="281" x2="267" y2="366" stroke="#7d6c24" stroke-width="2.3" opacity="0.41"/>
<line x1="361" y1="281" x2="360" y2="409" stroke="#7d6c24" stroke-width="4.3" opacity="0.36"/>
<line x1="135" y1="239" x2="128" y2="338" stroke="#a8962f" stroke-width="2.1" opacity="0.44"/>
<line x1="419" y1="369" x2="421" y2="483" stroke="#d8cf6a" stroke-width="2.1" opacity="0.30"/>
<line x1="205" y1="279" x2="209" y2="414" stroke="#7d6c24" stroke-width="3.1" opacity="0.25"/>
<line x1="526" y1="250" x2="524" y2="319" stroke="#8a7a2a" stroke-width="2.6" opacity="0.34"/>
<line x1="628" y1="502" x2="619" y2="592" stroke="#d9b84c" stroke-width="3.8" opacity="0.33"/>
<line x1="544" y1="296" x2="547" y2="373" stroke="#c49a3a" stroke-width="1.7" opacity="0.54"/>
<line x1="629" y1="186" x2="640" y2="230" stroke="#d6c458" stroke-width="4.2" opacity="0.27"/>
<line x1="138" y1="464" x2="148" y2="629" stroke="#a8962f" stroke-width="1.9" opacity="0.26"/>
<line x1="553" y1="276" x2="547" y2="321" stroke="#c49a3a" stroke-width="3.5" opacity="0.51"/>
<line x1="500" y1="488" x2="497" y2="587" stroke="#e0d478" stroke-width="4.3" opacity="0.27"/>
<line x1="600" y1="499" x2="604" y2="634" stroke="#e0d478" stroke-width="2.4" opacity="0.28"/>
<line x1="80" y1="346" x2="82" y2="456" stroke="#c9b044" stroke-width="2.3" opacity="0.25"/>
<line x1="449" y1="174" x2="461" y2="333" stroke="#d9b84c" stroke-width="3.0" opacity="0.27"/>
<line x1="225" y1="360" x2="232" y2="438" stroke="#b9c060" stroke-width="2.9" opacity="0.42"/>
<line x1="583" y1="325" x2="594" y2="390" stroke="#d9b84c" stroke-width="1.6" opacity="0.47"/>
<line x1="273" y1="185" x2="266" y2="247" stroke="#c49a3a" stroke-width="4.0" opacity="0.54"/>
<line x1="12" y1="311" x2="15" y2="476" stroke="#e0d478" stroke-width="2.9" opacity="0.28"/>
<line x1="6" y1="271" x2="-0" y2="316" stroke="#b9c060" stroke-width="3.2" opacity="0.45"/>
<line x1="169" y1="418" x2="161" y2="480" stroke="#b9c060" stroke-width="3.2" opacity="0.36"/>
<line x1="370" y1="323" x2="380" y2="406" stroke="#7d6c24" stroke-width="3.5" opacity="0.43"/>
<line x1="614" y1="390" x2="616" y2="491" stroke="#cfc058" stroke-width="3.8" opacity="0.53"/>
<line x1="213" y1="355" x2="218" y2="447" stroke="#a8962f" stroke-width="2.4" opacity="0.25"/>
<line x1="473" y1="285" x2="473" y2="398" stroke="#c9b044" stroke-width="3.5" opacity="0.45"/>
<line x1="456" y1="303" x2="464" y2="408" stroke="#b9c060" stroke-width="2.9" opacity="0.25"/>
<line x1="341" y1="330" x2="352" y2="454" stroke="#cfc058" stroke-width="3.1" opacity="0.24"/>
<line x1="190" y1="185" x2="187" y2="301" stroke="#d8cf6a" stroke-width="2.3" opacity="0.52"/>
<line x1="345" y1="312" x2="356" y2="424" stroke="#6f601f" stroke-width="4.1" opacity="0.27"/>
<line x1="215" y1="392" x2="225" y2="498" stroke="#d9b84c" stroke-width="2.1" opacity="0.50"/>
<line x1="553" y1="498" x2="558" y2="657" stroke="#c49a3a" stroke-width="3.6" opacity="0.49"/>
<line x1="552" y1="227" x2="547" y2="373" stroke="#7d6c24" stroke-width="1.6" opacity="0.49"/>
<line x1="660" y1="390" x2="663" y2="491" stroke="#d9b84c" stroke-width="4.2" opacity="0.53"/>
<line x1="443" y1="190" x2="433" y2="316" stroke="#cfc058" stroke-width="4.1" opacity="0.32"/>
<line x1="124" y1="402" x2="136" y2="541" stroke="#b9c060" stroke-width="3.4" opacity="0.47"/>
<line x1="460" y1="315" x2="458" y2="408" stroke="#d8cf6a" stroke-width="3.2" opacity="0.53"/>
<line x1="439" y1="334" x2="436" y2="424" stroke="#d8cf6a" stroke-width="4.2" opacity="0.38"/>
<line x1="676" y1="246" x2="666" y2="366" stroke="#8a7a2a" stroke-width="3.0" opacity="0.32"/>
<line x1="185" y1="231" x2="189" y2="355" stroke="#e0d478" stroke-width="2.5" opacity="0.53"/>
<line x1="629" y1="266" x2="631" y2="430" stroke="#6f601f" stroke-width="3.8" opacity="0.33"/>
<line x1="189" y1="344" x2="178" y2="448" stroke="#c49a3a" stroke-width="3.1" opacity="0.38"/>
<line x1="512" y1="252" x2="514" y2="318" stroke="#7d6c24" stroke-width="2.8" opacity="0.35"/>
<line x1="231" y1="491" x2="240" y2="570" stroke="#d9b84c" stroke-width="3.1" opacity="0.29"/>
<line x1="634" y1="434" x2="624" y2="593" stroke="#d6c458" stroke-width="2.8" opacity="0.45"/>
<line x1="525" y1="355" x2="535" y2="478" stroke="#cfc058" stroke-width="3.3" opacity="0.36"/>
<line x1="4" y1="197" x2="15" y2="261" stroke="#b9c060" stroke-width="2.0" opacity="0.40"/>
<line x1="184" y1="411" x2="180" y2="545" stroke="#d9b84c" stroke-width="1.6" opacity="0.24"/>
<line x1="37" y1="497" x2="30" y2="661" stroke="#cfc058" stroke-width="4.2" opacity="0.24"/>
<line x1="44" y1="259" x2="43" y2="389" stroke="#8a7a2a" stroke-width="4.5" opacity="0.38"/>
<line x1="540" y1="250" x2="534" y2="396" stroke="#b9c060" stroke-width="2.7" opacity="0.25"/>
<line x1="387" y1="251" x2="385" y2="365" stroke="#d6c458" stroke-width="1.7" opacity="0.35"/>
<line x1="321" y1="204" x2="329" y2="368" stroke="#6f601f" stroke-width="4.5" opacity="0.51"/>
<line x1="639" y1="383" x2="627" y2="467" stroke="#c49a3a" stroke-width="3.0" opacity="0.36"/>
<line x1="272" y1="467" x2="279" y2="540" stroke="#c49a3a" stroke-width="2.3" opacity="0.29"/>
<line x1="456" y1="237" x2="449" y2="334" stroke="#d8cf6a" stroke-width="2.7" opacity="0.32"/>
<line x1="532" y1="321" x2="541" y2="423" stroke="#6f601f" stroke-width="3.5" opacity="0.44"/>
<line x1="346" y1="438" x2="355" y2="599" stroke="#e0d478" stroke-width="3.7" opacity="0.32"/>
<line x1="498" y1="488" x2="502" y2="613" stroke="#d6c458" stroke-width="2.1" opacity="0.32"/>
<line x1="413" y1="197" x2="418" y2="313" stroke="#b9c060" stroke-width="3.6" opacity="0.23"/>
<line x1="284" y1="426" x2="287" y2="500" stroke="#7d6c24" stroke-width="4.1" opacity="0.32"/>
<line x1="659" y1="420" x2="659" y2="516" stroke="#d8cf6a" stroke-width="4.0" opacity="0.50"/>
<line x1="267" y1="367" x2="273" y2="500" stroke="#c49a3a" stroke-width="2.6" opacity="0.38"/>
<line x1="173" y1="398" x2="165" y2="491" stroke="#d8cf6a" stroke-width="1.9" opacity="0.48"/>
<line x1="221" y1="413" x2="215" y2="576" stroke="#b9c060" stroke-width="2.5" opacity="0.53"/>
<line x1="222" y1="479" x2="222" y2="622" stroke="#6f601f" stroke-width="2.4" opacity="0.49"/>
<line x1="287" y1="217" x2="286" y2="336" stroke="#c9b044" stroke-width="3.2" opacity="0.37"/>
<line x1="11" y1="266" x2="-0" y2="362" stroke="#d8cf6a" stroke-width="2.4" opacity="0.45"/>
<line x1="475" y1="447" x2="469" y2="537" stroke="#a8962f" stroke-width="3.2" opacity="0.39"/>
<line x1="370" y1="302" x2="377" y2="395" stroke="#d9b84c" stroke-width="4.1" opacity="0.53"/>
<line x1="169" y1="228" x2="159" y2="283" stroke="#d8cf6a" stroke-width="3.7" opacity="0.31"/>
<line x1="335" y1="402" x2="343" y2="446" stroke="#a8962f" stroke-width="2.1" opacity="0.45"/>
<line x1="481" y1="282" x2="474" y2="436" stroke="#6f601f" stroke-width="3.6" opacity="0.23"/>
<line x1="633" y1="434" x2="633" y2="510" stroke="#a8962f" stroke-width="2.2" opacity="0.29"/>
<line x1="426" y1="219" x2="422" y2="384" stroke="#6f601f" stroke-width="4.2" opacity="0.28"/>
<line x1="122" y1="368" x2="121" y2="507" stroke="#b9c060" stroke-width="3.6" opacity="0.29"/>
<line x1="608" y1="462" x2="605" y2="531" stroke="#7d6c24" stroke-width="3.0" opacity="0.44"/>
<line x1="586" y1="419" x2="590" y2="559" stroke="#b9c060" stroke-width="1.6" opacity="0.33"/>
<line x1="407" y1="425" x2="408" y2="529" stroke="#d6c458" stroke-width="1.7" opacity="0.25"/>
<line x1="10" y1="403" x2="4" y2="466" stroke="#d9b84c" stroke-width="2.0" opacity="0.44"/>
<line x1="32" y1="431" x2="21" y2="499" stroke="#7d6c24" stroke-width="2.6" opacity="0.30"/>
<line x1="198" y1="256" x2="194" y2="298" stroke="#b9c060" stroke-width="2.0" opacity="0.28"/>
<line x1="108" y1="200" x2="100" y2="328" stroke="#c9b044" stroke-width="4.2" opacity="0.47"/>
<line x1="428" y1="390" x2="428" y2="520" stroke="#d6c458" stroke-width="4.0" opacity="0.34"/>
<line x1="180" y1="318" x2="192" y2="432" stroke="#7d6c24" stroke-width="2.4" opacity="0.32"/>
<line x1="267" y1="386" x2="266" y2="431" stroke="#c9b044" stroke-width="2.1" opacity="0.51"/>
<line x1="576" y1="398" x2="582" y2="528" stroke="#6f601f" stroke-width="1.8" opacity="0.39"/>
<line x1="152" y1="364" x2="161" y2="489" stroke="#7d6c24" stroke-width="1.7" opacity="0.30"/>
<line x1="670" y1="351" x2="665" y2="458" stroke="#cfc058" stroke-width="3.1" opacity="0.55"/>
<line x1="48" y1="503" x2="39" y2="544" stroke="#d6c458" stroke-width="3.6" opacity="0.47"/>
<line x1="306" y1="502" x2="308" y2="658" stroke="#c9b044" stroke-width="3.3" opacity="0.41"/>
<line x1="115" y1="324" x2="120" y2="481" stroke="#7d6c24" stroke-width="4.3" opacity="0.44"/>
<line x1="560" y1="502" x2="562" y2="661" stroke="#d8cf6a" stroke-width="2.2" opacity="0.44"/>
<line x1="144" y1="193" x2="140" y2="332" stroke="#c9b044" stroke-width="3.1" opacity="0.54"/>
<line x1="123" y1="231" x2="116" y2="375" stroke="#8a7a2a" stroke-width="1.7" opacity="0.23"/>
<line x1="550" y1="215" x2="538" y2="282" stroke="#8a7a2a" stroke-width="4.2" opacity="0.43"/>
<line x1="679" y1="439" x2="685" y2="596" stroke="#a8962f" stroke-width="3.4" opacity="0.42"/>
<line x1="645" y1="183" x2="642" y2="296" stroke="#d9b84c" stroke-width="2.3" opacity="0.46"/>
<line x1="124" y1="335" x2="118" y2="501" stroke="#cfc058" stroke-width="2.3" opacity="0.29"/>
<line x1="53" y1="253" x2="50" y2="383" stroke="#d9b84c" stroke-width="3.6" opacity="0.54"/>
<line x1="460" y1="380" x2="466" y2="469" stroke="#6f601f" stroke-width="1.5" opacity="0.36"/>
<line x1="404" y1="209" x2="395" y2="282" stroke="#a8962f" stroke-width="4.4" opacity="0.34"/>
<line x1="224" y1="218" x2="234" y2="335" stroke="#8a7a2a" stroke-width="2.1" opacity="0.22"/>
<line x1="452" y1="385" x2="451" y2="507" stroke="#6f601f" stroke-width="3.7" opacity="0.25"/>
<line x1="596" y1="179" x2="595" y2="244" stroke="#d6c458" stroke-width="3.4" opacity="0.47"/>
<line x1="524" y1="411" x2="532" y2="458" stroke="#8a7a2a" stroke-width="2.3" opacity="0.42"/>
<line x1="618" y1="249" x2="609" y2="374" stroke="#c49a3a" stroke-width="1.6" opacity="0.50"/>
<line x1="413" y1="477" x2="404" y2="522" stroke="#cfc058" stroke-width="2.0" opacity="0.37"/>
<line x1="299" y1="193" x2="288" y2="301" stroke="#c9b044" stroke-width="3.9" opacity="0.36"/>
<line x1="258" y1="420" x2="246" y2="472" stroke="#cfc058" stroke-width="1.6" opacity="0.42"/>
<line x1="129" y1="281" x2="139" y2="322" stroke="#b9c060" stroke-width="4.1" opacity="0.32"/>
<line x1="194" y1="392" x2="201" y2="453" stroke="#a8962f" stroke-width="4.3" opacity="0.26"/>
<line x1="449" y1="257" x2="443" y2="336" stroke="#e0d478" stroke-width="3.6" opacity="0.53"/>
<line x1="124" y1="301" x2="130" y2="451" stroke="#e0d478" stroke-width="3.2" opacity="0.26"/>
<line x1="284" y1="398" x2="288" y2="515" stroke="#b9c060" stroke-width="4.2" opacity="0.41"/>
<line x1="614" y1="505" x2="617" y2="654" stroke="#b9c060" stroke-width="1.9" opacity="0.35"/>
<line x1="387" y1="212" x2="377" y2="354" stroke="#d9b84c" stroke-width="3.2" opacity="0.29"/>
<line x1="659" y1="299" x2="663" y2="374" stroke="#d8cf6a" stroke-width="2.3" opacity="0.34"/>
<line x1="477" y1="232" x2="470" y2="382" stroke="#c9b044" stroke-width="3.3" opacity="0.46"/>
<line x1="75" y1="400" x2="78" y2="521" stroke="#6f601f" stroke-width="4.5" opacity="0.43"/>
<line x1="40" y1="409" x2="40" y2="480" stroke="#c49a3a" stroke-width="2.9" opacity="0.38"/>
<line x1="462" y1="258" x2="456" y2="371" stroke="#c49a3a" stroke-width="3.7" opacity="0.37"/>
<line x1="471" y1="219" x2="483" y2="361" stroke="#7d6c24" stroke-width="1.9" opacity="0.42"/>
<line x1="471" y1="310" x2="472" y2="460" stroke="#7d6c24" stroke-width="3.2" opacity="0.44"/>
<line x1="668" y1="188" x2="657" y2="240" stroke="#6f601f" stroke-width="3.5" opacity="0.30"/>
<line x1="173" y1="322" x2="183" y2="470" stroke="#d8cf6a" stroke-width="3.4" opacity="0.23"/>
<line x1="154" y1="178" x2="144" y2="239" stroke="#c9b044" stroke-width="2.5" opacity="0.25"/>
<line x1="482" y1="458" x2="479" y2="617" stroke="#d9b84c" stroke-width="3.7" opacity="0.51"/>
<line x1="380" y1="364" x2="384" y2="516" stroke="#a8962f" stroke-width="2.4" opacity="0.48"/>
<line x1="435" y1="326" x2="434" y2="367" stroke="#cfc058" stroke-width="2.9" opacity="0.52"/>
<line x1="104" y1="258" x2="101" y2="368" stroke="#a8962f" stroke-width="3.5" opacity="0.55"/>
<line x1="546" y1="266" x2="546" y2="365" stroke="#cfc058" stroke-width="2.7" opacity="0.52"/>
<line x1="331" y1="302" x2="328" y2="404" stroke="#e0d478" stroke-width="1.6" opacity="0.35"/>
<line x1="50" y1="396" x2="42" y2="456" stroke="#d6c458" stroke-width="1.8" opacity="0.30"/>
<line x1="98" y1="387" x2="95" y2="467" stroke="#7d6c24" stroke-width="3.7" opacity="0.22"/>
<line x1="112" y1="216" x2="103" y2="277" stroke="#c49a3a" stroke-width="3.7" opacity="0.41"/>
<line x1="103" y1="280" x2="114" y2="344" stroke="#cfc058" stroke-width="4.3" opacity="0.33"/>
<line x1="95" y1="431" x2="84" y2="485" stroke="#d9b84c" stroke-width="2.5" opacity="0.35"/>
<line x1="635" y1="425" x2="645" y2="573" stroke="#8a7a2a" stroke-width="2.9" opacity="0.32"/>
<line x1="632" y1="238" x2="622" y2="362" stroke="#8a7a2a" stroke-width="4.3" opacity="0.42"/>
<line x1="218" y1="412" x2="225" y2="569" stroke="#d8cf6a" stroke-width="3.9" opacity="0.30"/>
<line x1="582" y1="342" x2="577" y2="453" stroke="#8a7a2a" stroke-width="3.2" opacity="0.32"/>
<line x1="112" y1="419" x2="108" y2="557" stroke="#d6c458" stroke-width="4.1" opacity="0.53"/>
<line x1="151" y1="189" x2="144" y2="295" stroke="#7d6c24" stroke-width="4.0" opacity="0.38"/>
<line x1="443" y1="291" x2="435" y2="379" stroke="#b9c060" stroke-width="3.3" opacity="0.26"/>
<line x1="483" y1="369" x2="490" y2="489" stroke="#b9c060" stroke-width="3.9" opacity="0.48"/>
<line x1="295" y1="248" x2="305" y2="415" stroke="#a8962f" stroke-width="1.9" opacity="0.30"/>
<line x1="319" y1="357" x2="323" y2="432" stroke="#8a7a2a" stroke-width="4.0" opacity="0.35"/>
<line x1="442" y1="253" x2="432" y2="334" stroke="#8a7a2a" stroke-width="4.3" opacity="0.32"/>
<line x1="258" y1="207" x2="261" y2="266" stroke="#d9b84c" stroke-width="1.8" opacity="0.30"/>
<line x1="523" y1="244" x2="519" y2="398" stroke="#6f601f" stroke-width="4.3" opacity="0.48"/>
<line x1="643" y1="440" x2="643" y2="519" stroke="#7d6c24" stroke-width="3.4" opacity="0.48"/>
<line x1="222" y1="233" x2="212" y2="288" stroke="#c49a3a" stroke-width="3.3" opacity="0.22"/>
<line x1="310" y1="370" x2="299" y2="451" stroke="#d6c458" stroke-width="2.8" opacity="0.31"/>
<line x1="88" y1="378" x2="92" y2="516" stroke="#e0d478" stroke-width="1.9" opacity="0.49"/>
<line x1="58" y1="356" x2="48" y2="408" stroke="#d6c458" stroke-width="3.4" opacity="0.32"/>
<line x1="215" y1="268" x2="205" y2="346" stroke="#6f601f" stroke-width="3.4" opacity="0.38"/>
<line x1="536" y1="394" x2="536" y2="454" stroke="#d6c458" stroke-width="3.9" opacity="0.47"/>
<line x1="617" y1="373" x2="624" y2="520" stroke="#6f601f" stroke-width="1.8" opacity="0.27"/>
<line x1="28" y1="222" x2="23" y2="387" stroke="#6f601f" stroke-width="1.9" opacity="0.28"/>
<line x1="394" y1="380" x2="384" y2="499" stroke="#a8962f" stroke-width="3.9" opacity="0.22"/>
<line x1="376" y1="199" x2="365" y2="354" stroke="#cfc058" stroke-width="3.4" opacity="0.44"/>
<line x1="522" y1="229" x2="526" y2="312" stroke="#d6c458" stroke-width="2.9" opacity="0.30"/>
<line x1="464" y1="204" x2="457" y2="262" stroke="#c9b044" stroke-width="3.1" opacity="0.38"/>
<line x1="663" y1="240" x2="666" y2="365" stroke="#6f601f" stroke-width="4.0" opacity="0.54"/>
<line x1="119" y1="423" x2="129" y2="569" stroke="#7d6c24" stroke-width="3.4" opacity="0.34"/>
<line x1="292" y1="475" x2="280" y2="527" stroke="#8a7a2a" stroke-width="4.2" opacity="0.25"/>
<line x1="193" y1="453" x2="189" y2="563" stroke="#6f601f" stroke-width="1.6" opacity="0.48"/>
<line x1="547" y1="338" x2="556" y2="502" stroke="#b9c060" stroke-width="3.6" opacity="0.27"/>
<line x1="360" y1="358" x2="362" y2="518" stroke="#d6c458" stroke-width="3.5" opacity="0.29"/>
<line x1="239" y1="196" x2="230" y2="265" stroke="#8a7a2a" stroke-width="1.7" opacity="0.45"/>
<line x1="425" y1="281" x2="421" y2="345" stroke="#6f601f" stroke-width="3.8" opacity="0.30"/>
<line x1="498" y1="434" x2="491" y2="485" stroke="#a8962f" stroke-width="2.9" opacity="0.25"/>
<line x1="580" y1="183" x2="570" y2="286" stroke="#e0d478" stroke-width="3.9" opacity="0.31"/>
<line x1="558" y1="478" x2="569" y2="596" stroke="#e0d478" stroke-width="2.0" opacity="0.55"/>
<line x1="134" y1="439" x2="130" y2="495" stroke="#6f601f" stroke-width="1.7" opacity="0.41"/>
<line x1="217" y1="197" x2="224" y2="291" stroke="#d8cf6a" stroke-width="1.7" opacity="0.31"/>
<line x1="198" y1="309" x2="201" y2="472" stroke="#d6c458" stroke-width="1.7" opacity="0.30"/>
<line x1="503" y1="283" x2="493" y2="352" stroke="#d8cf6a" stroke-width="2.4" opacity="0.31"/>
<line x1="198" y1="480" x2="195" y2="590" stroke="#6f601f" stroke-width="3.5" opacity="0.33"/>
<line x1="337" y1="295" x2="326" y2="370" stroke="#cfc058" stroke-width="3.8" opacity="0.27"/>
<line x1="160" y1="439" x2="166" y2="556" stroke="#d8cf6a" stroke-width="2.6" opacity="0.37"/>
<line x1="360" y1="176" x2="367" y2="229" stroke="#c9b044" stroke-width="3.5" opacity="0.25"/>
<line x1="263" y1="259" x2="275" y2="350" stroke="#c49a3a" stroke-width="4.2" opacity="0.46"/>
<line x1="463" y1="324" x2="465" y2="433" stroke="#c9b044" stroke-width="3.0" opacity="0.55"/>
<line x1="635" y1="449" x2="636" y2="596" stroke="#c9b044" stroke-width="4.2" opacity="0.24"/>
<line x1="325" y1="294" x2="317" y2="458" stroke="#b9c060" stroke-width="2.3" opacity="0.52"/>
<line x1="523" y1="206" x2="531" y2="328" stroke="#d6c458" stroke-width="1.5" opacity="0.29"/>
<line x1="505" y1="464" x2="499" y2="605" stroke="#e0d478" stroke-width="2.7" opacity="0.37"/>
<line x1="642" y1="366" x2="631" y2="497" stroke="#6f601f" stroke-width="2.9" opacity="0.33"/>
<line x1="68" y1="466" x2="58" y2="628" stroke="#6f601f" stroke-width="1.9" opacity="0.40"/>
<line x1="343" y1="229" x2="344" y2="319" stroke="#c9b044" stroke-width="2.8" opacity="0.42"/>
<line x1="648" y1="482" x2="656" y2="640" stroke="#7d6c24" stroke-width="3.6" opacity="0.29"/>
<line x1="630" y1="331" x2="633" y2="462" stroke="#cfc058" stroke-width="2.4" opacity="0.23"/>
<line x1="58" y1="239" x2="66" y2="374" stroke="#d8cf6a" stroke-width="3.5" opacity="0.25"/>
<line x1="77" y1="195" x2="78" y2="349" stroke="#6f601f" stroke-width="4.4" opacity="0.54"/>
<line x1="493" y1="327" x2="499" y2="464" stroke="#c9b044" stroke-width="3.8" opacity="0.54"/>
<line x1="414" y1="404" x2="405" y2="540" stroke="#cfc058" stroke-width="4.4" opacity="0.29"/>
<line x1="152" y1="492" x2="162" y2="655" stroke="#d6c458" stroke-width="4.0" opacity="0.49"/>
<line x1="389" y1="193" x2="397" y2="328" stroke="#d8cf6a" stroke-width="1.6" opacity="0.24"/>
<line x1="503" y1="332" x2="515" y2="489" stroke="#6f601f" stroke-width="4.1" opacity="0.29"/>
<line x1="215" y1="315" x2="227" y2="362" stroke="#d6c458" stroke-width="3.7" opacity="0.48"/>
<line x1="316" y1="237" x2="321" y2="336" stroke="#c9b044" stroke-width="3.6" opacity="0.27"/>
<line x1="681" y1="478" x2="672" y2="626" stroke="#d6c458" stroke-width="4.0" opacity="0.41"/>
<line x1="88" y1="439" x2="93" y2="566" stroke="#8a7a2a" stroke-width="3.7" opacity="0.42"/>
<line x1="241" y1="282" x2="245" y2="332" stroke="#d8cf6a" stroke-width="4.0" opacity="0.40"/>
<line x1="32" y1="325" x2="21" y2="428" stroke="#6f601f" stroke-width="2.9" opacity="0.22"/>
<line x1="422" y1="383" x2="425" y2="535" stroke="#a8962f" stroke-width="1.7" opacity="0.43"/>
<line x1="220" y1="334" x2="213" y2="437" stroke="#d8cf6a" stroke-width="3.8" opacity="0.55"/>
<line x1="316" y1="470" x2="305" y2="562" stroke="#a8962f" stroke-width="4.3" opacity="0.24"/>
<line x1="391" y1="275" x2="400" y2="323" stroke="#b9c060" stroke-width="2.4" opacity="0.35"/>
<line x1="81" y1="370" x2="89" y2="465" stroke="#a8962f" stroke-width="3.4" opacity="0.45"/>
<line x1="396" y1="269" x2="396" y2="352" stroke="#d6c458" stroke-width="4.2" opacity="0.32"/>
<line x1="334" y1="345" x2="335" y2="419" stroke="#e0d478" stroke-width="2.7" opacity="0.51"/>
<line x1="657" y1="429" x2="669" y2="574" stroke="#8a7a2a" stroke-width="4.1" opacity="0.46"/>
<line x1="33" y1="212" x2="42" y2="349" stroke="#c9b044" stroke-width="3.8" opacity="0.27"/>
<line x1="389" y1="378" x2="380" y2="497" stroke="#a8962f" stroke-width="3.0" opacity="0.31"/>
<line x1="677" y1="298" x2="681" y2="347" stroke="#cfc058" stroke-width="1.8" opacity="0.28"/>
<line x1="310" y1="312" x2="322" y2="462" stroke="#c9b044" stroke-width="4.5" opacity="0.51"/>
<line x1="635" y1="253" x2="626" y2="400" stroke="#b9c060" stroke-width="3.9" opacity="0.38"/>
<line x1="351" y1="400" x2="357" y2="469" stroke="#b9c060" stroke-width="1.5" opacity="0.48"/>
<line x1="37" y1="467" x2="37" y2="613" stroke="#6f601f" stroke-width="3.0" opacity="0.37"/>
<line x1="182" y1="387" x2="181" y2="427" stroke="#e0d478" stroke-width="2.5" opacity="0.28"/>
<line x1="283" y1="410" x2="274" y2="560" stroke="#c9b044" stroke-width="3.1" opacity="0.31"/>
<line x1="195" y1="468" x2="201" y2="553" stroke="#a8962f" stroke-width="2.1" opacity="0.52"/>
<line x1="65" y1="199" x2="71" y2="368" stroke="#6f601f" stroke-width="1.7" opacity="0.27"/>
<line x1="29" y1="374" x2="40" y2="495" stroke="#cfc058" stroke-width="2.3" opacity="0.25"/>
<line x1="8" y1="454" x2="10" y2="514" stroke="#d6c458" stroke-width="2.6" opacity="0.53"/>
<line x1="213" y1="447" x2="204" y2="556" stroke="#d8cf6a" stroke-width="2.6" opacity="0.42"/>
<line x1="353" y1="250" x2="348" y2="307" stroke="#c49a3a" stroke-width="2.1" opacity="0.32"/>
<line x1="345" y1="335" x2="338" y2="389" stroke="#6f601f" stroke-width="1.7" opacity="0.34"/>
<line x1="627" y1="191" x2="616" y2="269" stroke="#a8962f" stroke-width="4.1" opacity="0.51"/>
<line x1="27" y1="487" x2="36" y2="559" stroke="#7d6c24" stroke-width="1.8" opacity="0.40"/>
<line x1="34" y1="317" x2="28" y2="462" stroke="#e0d478" stroke-width="2.2" opacity="0.35"/>
<line x1="546" y1="169" x2="547" y2="281" stroke="#c49a3a" stroke-width="2.8" opacity="0.27"/>
<line x1="333" y1="498" x2="341" y2="554" stroke="#7d6c24" stroke-width="3.2" opacity="0.25"/>
<line x1="477" y1="308" x2="468" y2="355" stroke="#d9b84c" stroke-width="4.0" opacity="0.51"/>
<line x1="266" y1="500" x2="271" y2="562" stroke="#c9b044" stroke-width="2.1" opacity="0.22"/>
<line x1="83" y1="196" x2="85" y2="341" stroke="#6f601f" stroke-width="2.7" opacity="0.54"/>
<line x1="5" y1="264" x2="-1" y2="307" stroke="#b9c060" stroke-width="1.9" opacity="0.32"/>
<line x1="95" y1="334" x2="104" y2="377" stroke="#d9b84c" stroke-width="4.2" opacity="0.44"/>
<line x1="611" y1="231" x2="617" y2="335" stroke="#7d6c24" stroke-width="2.5" opacity="0.29"/>
<line x1="304" y1="323" x2="296" y2="420" stroke="#cfc058" stroke-width="2.8" opacity="0.51"/>
<line x1="668" y1="423" x2="679" y2="578" stroke="#cfc058" stroke-width="2.4" opacity="0.40"/>
<line x1="682" y1="467" x2="684" y2="581" stroke="#c9b044" stroke-width="3.2" opacity="0.24"/>
<line x1="316" y1="195" x2="323" y2="289" stroke="#c49a3a" stroke-width="1.8" opacity="0.34"/>
<line x1="346" y1="436" x2="337" y2="599" stroke="#b9c060" stroke-width="2.7" opacity="0.27"/>
<line x1="314" y1="189" x2="304" y2="245" stroke="#d6c458" stroke-width="1.8" opacity="0.25"/>
<line x1="49" y1="193" x2="53" y2="291" stroke="#cfc058" stroke-width="4.2" opacity="0.42"/>
<line x1="651" y1="360" x2="640" y2="471" stroke="#a8962f" stroke-width="2.8" opacity="0.50"/>
<line x1="651" y1="367" x2="640" y2="441" stroke="#c9b044" stroke-width="2.5" opacity="0.50"/>
<line x1="351" y1="326" x2="349" y2="394" stroke="#e0d478" stroke-width="3.9" opacity="0.51"/>
<line x1="102" y1="173" x2="96" y2="288" stroke="#b9c060" stroke-width="2.1" opacity="0.54"/>
<line x1="362" y1="413" x2="357" y2="526" stroke="#7d6c24" stroke-width="2.3" opacity="0.51"/>
<line x1="466" y1="469" x2="477" y2="553" stroke="#b9c060" stroke-width="1.6" opacity="0.48"/>
<line x1="21" y1="415" x2="23" y2="556" stroke="#7d6c24" stroke-width="2.2" opacity="0.25"/>
<line x1="535" y1="216" x2="529" y2="354" stroke="#a8962f" stroke-width="4.2" opacity="0.22"/>
<line x1="431" y1="413" x2="433" y2="475" stroke="#7d6c24" stroke-width="3.4" opacity="0.41"/>
<line x1="220" y1="296" x2="214" y2="410" stroke="#d9b84c" stroke-width="2.7" opacity="0.27"/>
<line x1="601" y1="392" x2="592" y2="464" stroke="#8a7a2a" stroke-width="4.0" opacity="0.40"/>
<line x1="355" y1="372" x2="359" y2="484" stroke="#c9b044" stroke-width="3.9" opacity="0.42"/>
<line x1="199" y1="362" x2="189" y2="443" stroke="#cfc058" stroke-width="1.6" opacity="0.35"/>
<line x1="639" y1="327" x2="642" y2="491" stroke="#c49a3a" stroke-width="2.2" opacity="0.31"/>
<line x1="136" y1="233" x2="137" y2="284" stroke="#8a7a2a" stroke-width="3.3" opacity="0.45"/>
<line x1="548" y1="432" x2="539" y2="534" stroke="#c9b044" stroke-width="2.9" opacity="0.45"/>
<line x1="145" y1="415" x2="156" y2="531" stroke="#b9c060" stroke-width="2.3" opacity="0.47"/>
<line x1="140" y1="272" x2="140" y2="411" stroke="#c49a3a" stroke-width="3.1" opacity="0.34"/>
<line x1="97" y1="338" x2="93" y2="445" stroke="#8a7a2a" stroke-width="2.7" opacity="0.25"/>
<line x1="7" y1="367" x2="10" y2="501" stroke="#d6c458" stroke-width="4.5" opacity="0.38"/>
<line x1="577" y1="394" x2="586" y2="481" stroke="#cfc058" stroke-width="1.8" opacity="0.44"/>
<line x1="484" y1="312" x2="484" y2="478" stroke="#8a7a2a" stroke-width="2.7" opacity="0.42"/>
<line x1="202" y1="177" x2="210" y2="237" stroke="#8a7a2a" stroke-width="2.0" opacity="0.39"/>
<line x1="688" y1="198" x2="676" y2="350" stroke="#7d6c24" stroke-width="4.2" opacity="0.37"/>
<line x1="438" y1="323" x2="435" y2="384" stroke="#6f601f" stroke-width="2.4" opacity="0.48"/>
<line x1="421" y1="499" x2="409" y2="646" stroke="#b9c060" stroke-width="3.3" opacity="0.33"/>
<line x1="659" y1="370" x2="660" y2="445" stroke="#b9c060" stroke-width="1.6" opacity="0.43"/>
<line x1="334" y1="265" x2="327" y2="326" stroke="#6f601f" stroke-width="2.2" opacity="0.34"/>
<line x1="612" y1="325" x2="616" y2="448" stroke="#8a7a2a" stroke-width="2.2" opacity="0.54"/>
<line x1="375" y1="281" x2="380" y2="354" stroke="#d6c458" stroke-width="3.0" opacity="0.55"/>
<line x1="417" y1="378" x2="429" y2="468" stroke="#d6c458" stroke-width="2.7" opacity="0.41"/>
<line x1="358" y1="353" x2="369" y2="466" stroke="#c49a3a" stroke-width="2.1" opacity="0.34"/>
<line x1="81" y1="345" x2="90" y2="499" stroke="#d8cf6a" stroke-width="3.9" opacity="0.53"/>
<line x1="68" y1="323" x2="64" y2="489" stroke="#d9b84c" stroke-width="1.7" opacity="0.32"/>
<line x1="336" y1="494" x2="345" y2="619" stroke="#b9c060" stroke-width="1.8" opacity="0.23"/>
<line x1="411" y1="328" x2="416" y2="415" stroke="#d6c458" stroke-width="4.3" opacity="0.38"/>
<line x1="134" y1="334" x2="129" y2="478" stroke="#b9c060" stroke-width="1.7" opacity="0.42"/>
<line x1="33" y1="279" x2="24" y2="371" stroke="#d8cf6a" stroke-width="3.6" opacity="0.41"/>
<line x1="517" y1="504" x2="529" y2="587" stroke="#6f601f" stroke-width="2.1" opacity="0.43"/>
<line x1="170" y1="418" x2="178" y2="587" stroke="#e0d478" stroke-width="1.8" opacity="0.40"/>
<line x1="131" y1="257" x2="130" y2="396" stroke="#8a7a2a" stroke-width="2.9" opacity="0.50"/>
<line x1="380" y1="246" x2="373" y2="379" stroke="#d6c458" stroke-width="3.9" opacity="0.30"/>
<line x1="537" y1="203" x2="537" y2="260" stroke="#8a7a2a" stroke-width="3.4" opacity="0.30"/>
<line x1="0" y1="293" x2="6" y2="453" stroke="#d9b84c" stroke-width="2.9" opacity="0.47"/>
<line x1="337" y1="303" x2="341" y2="359" stroke="#a8962f" stroke-width="3.6" opacity="0.32"/>
<line x1="360" y1="288" x2="367" y2="379" stroke="#d8cf6a" stroke-width="3.9" opacity="0.32"/>
</g>
<g filter="url(#bl14)">
<ellipse cx="10" cy="500" rx="70" ry="90" fill="#6a5518" opacity="0.45"/>
<ellipse cx="560" cy="510" rx="150" ry="50" fill="#6a5518" opacity="0.3"/>
<ellipse cx="400" cy="330" rx="90" ry="60" fill="#c8923a" opacity="0.35"/>
<ellipse cx="160" cy="300" rx="70" ry="50" fill="#c8983a" opacity="0.25"/>
<ellipse cx="480" cy="390" rx="25" ry="60" fill="#5c4c1a" opacity="0.45" transform="rotate(25 480 390)"/>
</g>
</g>
<g transform="translate(2218,258)" clip-path="url(#c2)">
<rect width="526" height="669" fill="url(#bg2)"/>
<g filter="url(#bl14)">
<ellipse cx="378" cy="167" rx="167" ry="104" fill="#fdfcfa" opacity="0.95"/>
<ellipse cx="478" cy="259" rx="80" ry="44" fill="#f8f1e4" opacity="0.90"/>
<ellipse cx="16" cy="255" rx="44" ry="104" fill="#dcab58" opacity="0.90"/>
<ellipse cx="68" cy="100" rx="44" ry="119" fill="#f0e4cc" opacity="0.50" transform="rotate(8 68 100)"/>
<ellipse cx="175" cy="255" rx="92" ry="28" fill="#e4cba0" opacity="0.90" transform="rotate(12 175 255)"/>
<ellipse cx="458" cy="342" rx="104" ry="64" fill="#ecd09a" opacity="0.80"/>
<ellipse cx="259" cy="303" rx="104" ry="32" fill="#e3bd7c" opacity="0.70"/>
<ellipse cx="100" cy="597" rx="159" ry="80" fill="#cf9f50" opacity="0.60"/>
<ellipse cx="398" cy="597" rx="159" ry="64" fill="#d6a95a" opacity="0.50"/>
<ellipse cx="438" cy="478" rx="100" ry="48" fill="#e4c488" opacity="0.60"/>
</g>
<g filter="url(#bl1)" stroke-linecap="round" fill="none">
<line x1="428" y1="256" x2="562" y2="132" stroke="#d2b486" stroke-width="2.0" opacity="0.27"/>
<line x1="351" y1="256" x2="481" y2="101" stroke="#e8d8b8" stroke-width="2.0" opacity="0.35"/>
<line x1="218" y1="301" x2="326" y2="16" stroke="#cdbb9e" stroke-width="1.6" opacity="0.38"/>
<line x1="386" y1="198" x2="590" y2="-72" stroke="#e8d8b8" stroke-width="2.1" opacity="0.16"/>
<line x1="395" y1="184" x2="619" y2="-81" stroke="#c4b094" stroke-width="1.7" opacity="0.15"/>
<line x1="291" y1="216" x2="460" y2="-88" stroke="#dfc290" stroke-width="1.8" opacity="0.31"/>
<line x1="234" y1="307" x2="370" y2="75" stroke="#d2b486" stroke-width="2.4" opacity="0.42"/>
<line x1="427" y1="316" x2="590" y2="149" stroke="#cdbb9e" stroke-width="1.1" opacity="0.23"/>
<line x1="327" y1="206" x2="527" y2="-112" stroke="#e3cfa8" stroke-width="1.5" opacity="0.34"/>
<line x1="458" y1="226" x2="639" y2="22" stroke="#d9c5a2" stroke-width="2.2" opacity="0.37"/>
<line x1="373" y1="359" x2="566" y2="101" stroke="#d2b486" stroke-width="1.3" opacity="0.22"/>
<line x1="114" y1="350" x2="212" y2="7" stroke="#e8d8b8" stroke-width="1.9" opacity="0.54"/>
<line x1="32" y1="395" x2="100" y2="48" stroke="#e3cfa8" stroke-width="1.1" opacity="0.39"/>
<line x1="485" y1="292" x2="660" y2="161" stroke="#cdbb9e" stroke-width="2.2" opacity="0.21"/>
<line x1="167" y1="333" x2="306" y2="92" stroke="#d9c5a2" stroke-width="2.6" opacity="0.48"/>
<line x1="337" y1="289" x2="445" y2="127" stroke="#e3cfa8" stroke-width="1.8" opacity="0.35"/>
<line x1="26" y1="371" x2="105" y2="-19" stroke="#d2b486" stroke-width="1.7" opacity="0.36"/>
<line x1="393" y1="291" x2="555" y2="121" stroke="#e8d8b8" stroke-width="1.4" opacity="0.16"/>
<line x1="282" y1="261" x2="415" y2="33" stroke="#e8d8b8" stroke-width="2.2" opacity="0.26"/>
<line x1="466" y1="281" x2="726" y2="9" stroke="#d2b486" stroke-width="2.2" opacity="0.34"/>
<line x1="95" y1="281" x2="137" y2="82" stroke="#dfc290" stroke-width="1.6" opacity="0.41"/>
<line x1="168" y1="261" x2="231" y2="72" stroke="#d2b486" stroke-width="1.4" opacity="0.20"/>
<line x1="477" y1="203" x2="635" y2="25" stroke="#b8aa9a" stroke-width="2.5" opacity="0.26"/>
<line x1="304" y1="193" x2="459" y2="-82" stroke="#d9c5a2" stroke-width="2.6" opacity="0.28"/>
<line x1="410" y1="172" x2="530" y2="15" stroke="#d2b486" stroke-width="1.4" opacity="0.32"/>
<line x1="209" y1="371" x2="305" y2="143" stroke="#d2b486" stroke-width="1.6" opacity="0.22"/>
<line x1="273" y1="310" x2="399" y2="93" stroke="#e8d8b8" stroke-width="2.3" opacity="0.34"/>
<line x1="436" y1="286" x2="591" y2="116" stroke="#b8aa9a" stroke-width="1.5" opacity="0.18"/>
<line x1="6" y1="307" x2="40" y2="110" stroke="#e8d8b8" stroke-width="1.1" opacity="0.34"/>
<line x1="250" y1="241" x2="405" y2="-8" stroke="#d2b486" stroke-width="1.5" opacity="0.34"/>
<line x1="10" y1="243" x2="103" y2="-37" stroke="#e3cfa8" stroke-width="2.1" opacity="0.44"/>
<line x1="437" y1="218" x2="582" y2="29" stroke="#e3cfa8" stroke-width="1.8" opacity="0.20"/>
<line x1="329" y1="262" x2="455" y2="53" stroke="#cdbb9e" stroke-width="2.3" opacity="0.26"/>
<line x1="162" y1="238" x2="264" y2="7" stroke="#e8d8b8" stroke-width="1.0" opacity="0.32"/>
<line x1="11" y1="390" x2="118" y2="20" stroke="#cdbb9e" stroke-width="1.9" opacity="0.54"/>
<line x1="322" y1="196" x2="522" y2="-63" stroke="#e8d8b8" stroke-width="1.8" opacity="0.21"/>
<line x1="432" y1="302" x2="715" y2="30" stroke="#d2b486" stroke-width="2.2" opacity="0.36"/>
<line x1="501" y1="236" x2="641" y2="115" stroke="#e8d8b8" stroke-width="1.3" opacity="0.39"/>
<line x1="360" y1="203" x2="517" y2="-28" stroke="#d9c5a2" stroke-width="2.5" opacity="0.32"/>
<line x1="250" y1="282" x2="341" y2="79" stroke="#e8d8b8" stroke-width="1.8" opacity="0.16"/>
<line x1="315" y1="337" x2="518" y2="6" stroke="#e3cfa8" stroke-width="2.4" opacity="0.20"/>
<line x1="103" y1="285" x2="199" y2="56" stroke="#d9c5a2" stroke-width="2.1" opacity="0.38"/>
<line x1="492" y1="243" x2="743" y2="42" stroke="#e8d8b8" stroke-width="2.5" opacity="0.34"/>
<line x1="416" y1="352" x2="600" y2="79" stroke="#d9c5a2" stroke-width="1.2" opacity="0.35"/>
<line x1="84" y1="352" x2="151" y2="168" stroke="#d2b486" stroke-width="2.2" opacity="0.47"/>
<line x1="323" y1="251" x2="503" y2="-29" stroke="#dfc290" stroke-width="1.1" opacity="0.38"/>
<line x1="435" y1="302" x2="557" y2="168" stroke="#e3cfa8" stroke-width="2.5" opacity="0.41"/>
<line x1="434" y1="309" x2="603" y2="91" stroke="#e3cfa8" stroke-width="1.1" opacity="0.38"/>
<line x1="502" y1="335" x2="735" y2="85" stroke="#e8d8b8" stroke-width="1.8" opacity="0.41"/>
<line x1="235" y1="271" x2="402" y2="12" stroke="#e3cfa8" stroke-width="1.4" opacity="0.39"/>
<line x1="454" y1="232" x2="657" y2="-8" stroke="#c4b094" stroke-width="1.3" opacity="0.33"/>
<line x1="222" y1="228" x2="356" y2="-84" stroke="#cdbb9e" stroke-width="1.5" opacity="0.16"/>
<line x1="406" y1="314" x2="547" y2="183" stroke="#dfc290" stroke-width="2.5" opacity="0.16"/>
<line x1="243" y1="349" x2="373" y2="107" stroke="#c4b094" stroke-width="1.0" opacity="0.31"/>
<line x1="310" y1="283" x2="456" y2="28" stroke="#dfc290" stroke-width="1.2" opacity="0.30"/>
<line x1="292" y1="231" x2="533" y2="-81" stroke="#c4b094" stroke-width="2.0" opacity="0.22"/>
<line x1="384" y1="211" x2="623" y2="-50" stroke="#dfc290" stroke-width="2.3" opacity="0.25"/>
<line x1="132" y1="315" x2="177" y2="120" stroke="#b8aa9a" stroke-width="2.2" opacity="0.46"/>
<line x1="437" y1="261" x2="608" y2="104" stroke="#b8aa9a" stroke-width="2.4" opacity="0.23"/>
<line x1="-4" y1="395" x2="58" y2="123" stroke="#cdbb9e" stroke-width="1.5" opacity="0.32"/>
<line x1="142" y1="376" x2="256" y2="83" stroke="#cdbb9e" stroke-width="2.2" opacity="0.44"/>
<line x1="81" y1="320" x2="156" y2="89" stroke="#cdbb9e" stroke-width="1.8" opacity="0.53"/>
<line x1="325" y1="286" x2="415" y2="110" stroke="#b8aa9a" stroke-width="1.6" opacity="0.34"/>
<line x1="316" y1="255" x2="435" y2="-2" stroke="#b8aa9a" stroke-width="1.4" opacity="0.31"/>
<line x1="299" y1="256" x2="449" y2="-40" stroke="#d2b486" stroke-width="1.0" opacity="0.28"/>
<line x1="383" y1="189" x2="558" y2="-65" stroke="#e8d8b8" stroke-width="1.3" opacity="0.27"/>
<line x1="-0" y1="305" x2="12" y2="15" stroke="#c4b094" stroke-width="1.8" opacity="0.53"/>
<line x1="198" y1="363" x2="292" y2="174" stroke="#b8aa9a" stroke-width="1.5" opacity="0.32"/>
<line x1="42" y1="378" x2="76" y2="186" stroke="#e8d8b8" stroke-width="1.3" opacity="0.48"/>
<line x1="246" y1="360" x2="389" y2="90" stroke="#d9c5a2" stroke-width="2.0" opacity="0.21"/>
<line x1="7" y1="339" x2="125" y2="-8" stroke="#c4b094" stroke-width="2.3" opacity="0.50"/>
<line x1="287" y1="278" x2="439" y2="58" stroke="#e8d8b8" stroke-width="1.1" opacity="0.17"/>
<line x1="298" y1="197" x2="438" y2="39" stroke="#d9c5a2" stroke-width="1.7" opacity="0.27"/>
<line x1="87" y1="346" x2="150" y2="177" stroke="#e8d8b8" stroke-width="1.5" opacity="0.52"/>
<line x1="238" y1="224" x2="443" y2="-96" stroke="#d2b486" stroke-width="2.2" opacity="0.25"/>
<line x1="381" y1="240" x2="496" y2="71" stroke="#d9c5a2" stroke-width="1.4" opacity="0.28"/>
<line x1="417" y1="284" x2="663" y2="62" stroke="#d9c5a2" stroke-width="2.1" opacity="0.40"/>
<line x1="305" y1="306" x2="520" y2="-14" stroke="#dfc290" stroke-width="1.4" opacity="0.17"/>
<line x1="295" y1="223" x2="424" y2="9" stroke="#e3cfa8" stroke-width="2.0" opacity="0.26"/>
<line x1="349" y1="265" x2="572" y2="-58" stroke="#cdbb9e" stroke-width="1.9" opacity="0.27"/>
<line x1="427" y1="199" x2="641" y2="-53" stroke="#b8aa9a" stroke-width="1.4" opacity="0.38"/>
<line x1="240" y1="366" x2="357" y2="219" stroke="#b8aa9a" stroke-width="2.3" opacity="0.40"/>
<line x1="111" y1="290" x2="244" y2="12" stroke="#cdbb9e" stroke-width="1.1" opacity="0.32"/>
<line x1="60" y1="207" x2="125" y2="-31" stroke="#e3cfa8" stroke-width="2.3" opacity="0.59"/>
<line x1="41" y1="323" x2="167" y2="9" stroke="#dfc290" stroke-width="1.5" opacity="0.59"/>
<line x1="142" y1="324" x2="211" y2="144" stroke="#b8aa9a" stroke-width="2.1" opacity="0.54"/>
<line x1="57" y1="300" x2="150" y2="19" stroke="#cdbb9e" stroke-width="1.0" opacity="0.56"/>
<line x1="399" y1="312" x2="637" y2="9" stroke="#d9c5a2" stroke-width="1.8" opacity="0.36"/>
<line x1="485" y1="326" x2="633" y2="212" stroke="#c4b094" stroke-width="1.9" opacity="0.33"/>
<line x1="19" y1="243" x2="74" y2="52" stroke="#cdbb9e" stroke-width="1.1" opacity="0.35"/>
<line x1="479" y1="273" x2="605" y2="126" stroke="#e3cfa8" stroke-width="1.8" opacity="0.34"/>
<line x1="91" y1="343" x2="182" y2="150" stroke="#e3cfa8" stroke-width="1.4" opacity="0.36"/>
<line x1="514" y1="344" x2="750" y2="127" stroke="#b8aa9a" stroke-width="2.4" opacity="0.18"/>
<line x1="133" y1="294" x2="245" y2="-22" stroke="#cdbb9e" stroke-width="2.6" opacity="0.42"/>
<line x1="32" y1="305" x2="102" y2="19" stroke="#e8d8b8" stroke-width="2.0" opacity="0.58"/>
<line x1="168" y1="259" x2="270" y2="20" stroke="#c4b094" stroke-width="1.0" opacity="0.24"/>
<line x1="246" y1="307" x2="347" y2="105" stroke="#dfc290" stroke-width="2.3" opacity="0.27"/>
<line x1="125" y1="334" x2="164" y2="153" stroke="#d9c5a2" stroke-width="1.3" opacity="0.47"/>
<line x1="13" y1="251" x2="50" y2="-109" stroke="#d9c5a2" stroke-width="1.2" opacity="0.36"/>
<line x1="157" y1="290" x2="339" y2="-29" stroke="#d9c5a2" stroke-width="1.1" opacity="0.58"/>
<line x1="88" y1="261" x2="142" y2="87" stroke="#c4b094" stroke-width="1.7" opacity="0.32"/>
<line x1="312" y1="243" x2="480" y2="-57" stroke="#cdbb9e" stroke-width="2.6" opacity="0.34"/>
<line x1="379" y1="240" x2="618" y2="31" stroke="#c4b094" stroke-width="1.8" opacity="0.26"/>
<line x1="50" y1="256" x2="116" y2="-31" stroke="#d9c5a2" stroke-width="2.6" opacity="0.48"/>
<line x1="12" y1="246" x2="129" y2="-75" stroke="#d9c5a2" stroke-width="2.6" opacity="0.50"/>
<line x1="158" y1="335" x2="271" y2="-25" stroke="#d9c5a2" stroke-width="1.6" opacity="0.56"/>
<line x1="84" y1="266" x2="130" y2="3" stroke="#d9c5a2" stroke-width="2.2" opacity="0.43"/>
<line x1="412" y1="195" x2="690" y2="-49" stroke="#cdbb9e" stroke-width="1.7" opacity="0.41"/>
<line x1="319" y1="274" x2="524" y2="-15" stroke="#e8d8b8" stroke-width="2.6" opacity="0.22"/>
<line x1="386" y1="187" x2="536" y2="30" stroke="#c4b094" stroke-width="1.2" opacity="0.39"/>
<line x1="48" y1="215" x2="86" y2="0" stroke="#e0c690" stroke-width="4" opacity="0.6"/>
<line x1="28" y1="279" x2="68" y2="0" stroke="#e0c690" stroke-width="4" opacity="0.6"/>
<line x1="100" y1="223" x2="133" y2="0" stroke="#e0c690" stroke-width="4" opacity="0.6"/>
<line x1="80" y1="239" x2="111" y2="0" stroke="#e0c690" stroke-width="4" opacity="0.6"/>
<line x1="131" y1="207" x2="171" y2="0" stroke="#e0c690" stroke-width="4" opacity="0.6"/>
<line x1="16" y1="191" x2="36" y2="0" stroke="#e0c690" stroke-width="4" opacity="0.6"/>
<line x1="151" y1="239" x2="191" y2="8" stroke="#e0c690" stroke-width="4" opacity="0.6"/>
<line x1="514" y1="458" x2="575" y2="286" stroke="#c08a38" stroke-width="3.9" opacity="0.28"/>
<line x1="190" y1="412" x2="271" y2="198" stroke="#e6c47c" stroke-width="4.0" opacity="0.24"/>
<line x1="1" y1="652" x2="62" y2="481" stroke="#f0d698" stroke-width="3.5" opacity="0.44"/>
<line x1="423" y1="373" x2="443" y2="250" stroke="#f0d698" stroke-width="3.7" opacity="0.42"/>
<line x1="96" y1="477" x2="108" y2="333" stroke="#a8742c" stroke-width="4.5" opacity="0.44"/>
<line x1="391" y1="595" x2="388" y2="466" stroke="#9c6c2a" stroke-width="4.1" opacity="0.43"/>
<line x1="68" y1="364" x2="94" y2="302" stroke="#a8742c" stroke-width="2.7" opacity="0.44"/>
<line x1="336" y1="485" x2="337" y2="416" stroke="#f0d698" stroke-width="3.6" opacity="0.31"/>
<line x1="266" y1="478" x2="294" y2="414" stroke="#a8742c" stroke-width="3.1" opacity="0.39"/>
<line x1="431" y1="360" x2="475" y2="221" stroke="#cfa050" stroke-width="2.5" opacity="0.19"/>
<line x1="488" y1="573" x2="499" y2="391" stroke="#cfa050" stroke-width="2.3" opacity="0.22"/>
<line x1="198" y1="599" x2="232" y2="478" stroke="#dcae5a" stroke-width="4.4" opacity="0.33"/>
<line x1="528" y1="684" x2="524" y2="470" stroke="#9c6c2a" stroke-width="4.2" opacity="0.34"/>
<line x1="468" y1="635" x2="476" y2="511" stroke="#c08a38" stroke-width="4.8" opacity="0.35"/>
<line x1="334" y1="453" x2="331" y2="337" stroke="#a8742c" stroke-width="3.6" opacity="0.43"/>
<line x1="187" y1="423" x2="206" y2="352" stroke="#cfa050" stroke-width="2.1" opacity="0.22"/>
<line x1="415" y1="564" x2="476" y2="357" stroke="#e6c47c" stroke-width="4.3" opacity="0.26"/>
<line x1="389" y1="546" x2="406" y2="483" stroke="#f0d698" stroke-width="1.6" opacity="0.32"/>
<line x1="508" y1="531" x2="568" y2="341" stroke="#cfa050" stroke-width="3.2" opacity="0.35"/>
<line x1="203" y1="429" x2="211" y2="331" stroke="#f0d698" stroke-width="1.8" opacity="0.21"/>
<line x1="267" y1="686" x2="325" y2="523" stroke="#c08a38" stroke-width="2.2" opacity="0.32"/>
<line x1="-0" y1="517" x2="-5" y2="438" stroke="#cfa050" stroke-width="1.6" opacity="0.38"/>
<line x1="32" y1="523" x2="29" y2="462" stroke="#a8742c" stroke-width="4.9" opacity="0.43"/>
<line x1="65" y1="403" x2="88" y2="345" stroke="#e6c47c" stroke-width="3.1" opacity="0.29"/>
<line x1="416" y1="517" x2="448" y2="451" stroke="#f0d698" stroke-width="4.6" opacity="0.44"/>
<line x1="406" y1="613" x2="445" y2="487" stroke="#9c6c2a" stroke-width="3.5" opacity="0.19"/>
<line x1="234" y1="644" x2="276" y2="508" stroke="#c08a38" stroke-width="4.1" opacity="0.24"/>
<line x1="373" y1="643" x2="358" y2="424" stroke="#c08a38" stroke-width="1.8" opacity="0.21"/>
<line x1="51" y1="560" x2="58" y2="394" stroke="#e6c47c" stroke-width="4.3" opacity="0.36"/>
<line x1="487" y1="371" x2="497" y2="243" stroke="#c08a38" stroke-width="5.0" opacity="0.42"/>
<line x1="280" y1="596" x2="332" y2="457" stroke="#cfa050" stroke-width="4.5" opacity="0.40"/>
<line x1="76" y1="341" x2="135" y2="151" stroke="#a8742c" stroke-width="2.2" opacity="0.40"/>
<line x1="182" y1="591" x2="236" y2="480" stroke="#e6c47c" stroke-width="3.2" opacity="0.44"/>
<line x1="260" y1="562" x2="252" y2="430" stroke="#c08a38" stroke-width="4.7" opacity="0.30"/>
<line x1="215" y1="414" x2="257" y2="307" stroke="#b98434" stroke-width="4.4" opacity="0.20"/>
<line x1="149" y1="574" x2="144" y2="446" stroke="#c08a38" stroke-width="4.6" opacity="0.33"/>
<line x1="251" y1="622" x2="266" y2="484" stroke="#cfa050" stroke-width="2.3" opacity="0.40"/>
<line x1="3" y1="338" x2="19" y2="213" stroke="#cfa050" stroke-width="4.5" opacity="0.24"/>
<line x1="395" y1="459" x2="451" y2="296" stroke="#cfa050" stroke-width="1.8" opacity="0.35"/>
<line x1="356" y1="423" x2="376" y2="311" stroke="#9c6c2a" stroke-width="4.4" opacity="0.36"/>
<line x1="96" y1="380" x2="112" y2="159" stroke="#c08a38" stroke-width="3.6" opacity="0.31"/>
<line x1="238" y1="653" x2="240" y2="527" stroke="#e6c47c" stroke-width="4.5" opacity="0.24"/>
<line x1="285" y1="540" x2="361" y2="361" stroke="#b98434" stroke-width="2.4" opacity="0.44"/>
<line x1="258" y1="492" x2="339" y2="317" stroke="#e6c47c" stroke-width="3.3" opacity="0.21"/>
<line x1="193" y1="360" x2="212" y2="225" stroke="#9c6c2a" stroke-width="2.9" opacity="0.27"/>
<line x1="39" y1="452" x2="90" y2="291" stroke="#c08a38" stroke-width="4.4" opacity="0.43"/>
<line x1="265" y1="420" x2="259" y2="326" stroke="#dcae5a" stroke-width="4.4" opacity="0.21"/>
<line x1="392" y1="523" x2="437" y2="357" stroke="#f0d698" stroke-width="3.3" opacity="0.21"/>
<line x1="389" y1="401" x2="409" y2="243" stroke="#dcae5a" stroke-width="1.5" opacity="0.32"/>
<line x1="266" y1="537" x2="277" y2="393" stroke="#e6c47c" stroke-width="3.8" opacity="0.34"/>
<line x1="503" y1="489" x2="526" y2="303" stroke="#dcae5a" stroke-width="3.8" opacity="0.45"/>
<line x1="177" y1="482" x2="197" y2="420" stroke="#c08a38" stroke-width="3.6" opacity="0.32"/>
<line x1="149" y1="389" x2="181" y2="190" stroke="#a8742c" stroke-width="4.9" opacity="0.40"/>
<line x1="287" y1="543" x2="319" y2="331" stroke="#e6c47c" stroke-width="4.2" opacity="0.41"/>
<line x1="261" y1="530" x2="269" y2="401" stroke="#c08a38" stroke-width="4.7" opacity="0.42"/>
<line x1="252" y1="469" x2="304" y2="304" stroke="#cfa050" stroke-width="3.4" opacity="0.38"/>
<line x1="218" y1="366" x2="260" y2="175" stroke="#e6c47c" stroke-width="2.5" opacity="0.33"/>
<line x1="461" y1="561" x2="512" y2="378" stroke="#c08a38" stroke-width="2.9" opacity="0.39"/>
<line x1="38" y1="333" x2="54" y2="268" stroke="#cfa050" stroke-width="3.8" opacity="0.32"/>
<line x1="371" y1="574" x2="389" y2="465" stroke="#cfa050" stroke-width="3.6" opacity="0.32"/>
<line x1="283" y1="514" x2="331" y2="328" stroke="#c08a38" stroke-width="4.0" opacity="0.40"/>
<line x1="247" y1="560" x2="246" y2="486" stroke="#9c6c2a" stroke-width="1.7" opacity="0.20"/>
<line x1="432" y1="552" x2="481" y2="331" stroke="#a8742c" stroke-width="2.0" opacity="0.25"/>
<line x1="336" y1="460" x2="345" y2="379" stroke="#9c6c2a" stroke-width="2.4" opacity="0.19"/>
<line x1="347" y1="438" x2="394" y2="288" stroke="#b98434" stroke-width="3.4" opacity="0.27"/>
<line x1="509" y1="488" x2="533" y2="427" stroke="#a8742c" stroke-width="3.2" opacity="0.29"/>
<line x1="110" y1="457" x2="115" y2="272" stroke="#c08a38" stroke-width="2.2" opacity="0.18"/>
<line x1="470" y1="348" x2="479" y2="268" stroke="#e6c47c" stroke-width="4.1" opacity="0.30"/>
<line x1="106" y1="669" x2="105" y2="558" stroke="#c08a38" stroke-width="4.7" opacity="0.23"/>
<line x1="351" y1="541" x2="381" y2="477" stroke="#e6c47c" stroke-width="1.7" opacity="0.24"/>
<line x1="519" y1="543" x2="558" y2="329" stroke="#cfa050" stroke-width="4.8" opacity="0.19"/>
<line x1="137" y1="541" x2="155" y2="431" stroke="#c08a38" stroke-width="1.7" opacity="0.28"/>
<line x1="370" y1="632" x2="409" y2="429" stroke="#e6c47c" stroke-width="2.9" opacity="0.37"/>
<line x1="272" y1="371" x2="351" y2="183" stroke="#a8742c" stroke-width="2.3" opacity="0.33"/>
<line x1="137" y1="668" x2="226" y2="472" stroke="#c08a38" stroke-width="3.4" opacity="0.30"/>
<line x1="404" y1="567" x2="411" y2="473" stroke="#a8742c" stroke-width="4.0" opacity="0.42"/>
<line x1="136" y1="373" x2="175" y2="190" stroke="#f0d698" stroke-width="2.5" opacity="0.32"/>
<line x1="-6" y1="559" x2="-14" y2="398" stroke="#e6c47c" stroke-width="2.8" opacity="0.45"/>
<line x1="160" y1="336" x2="159" y2="235" stroke="#cfa050" stroke-width="2.7" opacity="0.42"/>
<line x1="79" y1="412" x2="113" y2="266" stroke="#dcae5a" stroke-width="3.4" opacity="0.36"/>
<line x1="258" y1="591" x2="298" y2="457" stroke="#dcae5a" stroke-width="4.8" opacity="0.18"/>
<line x1="170" y1="441" x2="182" y2="250" stroke="#e6c47c" stroke-width="2.0" opacity="0.37"/>
<line x1="470" y1="354" x2="460" y2="192" stroke="#a8742c" stroke-width="3.4" opacity="0.32"/>
<line x1="212" y1="534" x2="276" y2="386" stroke="#9c6c2a" stroke-width="4.5" opacity="0.27"/>
<line x1="474" y1="514" x2="470" y2="323" stroke="#cfa050" stroke-width="2.0" opacity="0.44"/>
<line x1="-8" y1="487" x2="-9" y2="369" stroke="#a8742c" stroke-width="2.4" opacity="0.42"/>
<line x1="288" y1="526" x2="323" y2="309" stroke="#f0d698" stroke-width="3.2" opacity="0.18"/>
<line x1="469" y1="652" x2="502" y2="553" stroke="#b98434" stroke-width="4.3" opacity="0.28"/>
<line x1="314" y1="437" x2="376" y2="280" stroke="#dcae5a" stroke-width="2.5" opacity="0.19"/>
<line x1="252" y1="521" x2="263" y2="324" stroke="#e6c47c" stroke-width="3.9" opacity="0.25"/>
<line x1="341" y1="460" x2="362" y2="355" stroke="#f0d698" stroke-width="3.8" opacity="0.41"/>
<line x1="130" y1="535" x2="177" y2="332" stroke="#9c6c2a" stroke-width="3.6" opacity="0.43"/>
<line x1="278" y1="365" x2="318" y2="220" stroke="#c08a38" stroke-width="3.3" opacity="0.36"/>
<line x1="133" y1="466" x2="121" y2="284" stroke="#cfa050" stroke-width="4.2" opacity="0.22"/>
<line x1="433" y1="475" x2="524" y2="272" stroke="#a8742c" stroke-width="4.0" opacity="0.38"/>
<line x1="225" y1="649" x2="234" y2="453" stroke="#f0d698" stroke-width="3.4" opacity="0.18"/>
<line x1="206" y1="334" x2="289" y2="140" stroke="#cfa050" stroke-width="1.5" opacity="0.43"/>
<line x1="134" y1="564" x2="184" y2="418" stroke="#cfa050" stroke-width="4.0" opacity="0.36"/>
<line x1="435" y1="617" x2="478" y2="508" stroke="#e6c47c" stroke-width="3.6" opacity="0.35"/>
<line x1="266" y1="401" x2="288" y2="176" stroke="#9c6c2a" stroke-width="2.1" opacity="0.33"/>
<line x1="233" y1="374" x2="280" y2="266" stroke="#b98434" stroke-width="2.4" opacity="0.22"/>
<line x1="421" y1="609" x2="429" y2="521" stroke="#9c6c2a" stroke-width="3.1" opacity="0.23"/>
<line x1="63" y1="649" x2="83" y2="492" stroke="#c08a38" stroke-width="3.4" opacity="0.38"/>
<line x1="425" y1="516" x2="500" y2="332" stroke="#c08a38" stroke-width="2.8" opacity="0.20"/>
<line x1="11" y1="407" x2="3" y2="275" stroke="#c08a38" stroke-width="1.7" opacity="0.35"/>
<line x1="433" y1="493" x2="453" y2="426" stroke="#f0d698" stroke-width="2.4" opacity="0.34"/>
<line x1="184" y1="336" x2="184" y2="160" stroke="#cfa050" stroke-width="2.4" opacity="0.39"/>
<line x1="177" y1="516" x2="187" y2="386" stroke="#dcae5a" stroke-width="2.2" opacity="0.25"/>
<line x1="386" y1="432" x2="443" y2="298" stroke="#c08a38" stroke-width="4.0" opacity="0.36"/>
<line x1="198" y1="689" x2="193" y2="485" stroke="#dcae5a" stroke-width="3.2" opacity="0.38"/>
<line x1="14" y1="571" x2="62" y2="451" stroke="#a8742c" stroke-width="3.3" opacity="0.39"/>
<line x1="254" y1="373" x2="293" y2="189" stroke="#e6c47c" stroke-width="4.7" opacity="0.21"/>
<line x1="392" y1="447" x2="439" y2="250" stroke="#dcae5a" stroke-width="4.0" opacity="0.42"/>
<line x1="413" y1="679" x2="401" y2="463" stroke="#cfa050" stroke-width="3.9" opacity="0.43"/>
<line x1="78" y1="382" x2="101" y2="323" stroke="#c08a38" stroke-width="4.7" opacity="0.35"/>
<line x1="525" y1="511" x2="524" y2="342" stroke="#9c6c2a" stroke-width="2.4" opacity="0.25"/>
<line x1="3" y1="492" x2="48" y2="376" stroke="#b98434" stroke-width="2.1" opacity="0.43"/>
<line x1="465" y1="476" x2="477" y2="354" stroke="#a8742c" stroke-width="1.9" opacity="0.43"/>
<line x1="81" y1="596" x2="89" y2="530" stroke="#dcae5a" stroke-width="1.9" opacity="0.25"/>
<line x1="263" y1="601" x2="254" y2="388" stroke="#dcae5a" stroke-width="1.6" opacity="0.40"/>
<line x1="141" y1="352" x2="153" y2="126" stroke="#f0d698" stroke-width="4.1" opacity="0.42"/>
<line x1="275" y1="407" x2="323" y2="206" stroke="#dcae5a" stroke-width="4.2" opacity="0.21"/>
<line x1="357" y1="389" x2="407" y2="188" stroke="#f0d698" stroke-width="2.2" opacity="0.35"/>
<line x1="410" y1="591" x2="446" y2="411" stroke="#f0d698" stroke-width="3.3" opacity="0.36"/>
<line x1="403" y1="620" x2="426" y2="544" stroke="#c08a38" stroke-width="3.1" opacity="0.44"/>
<line x1="163" y1="516" x2="197" y2="366" stroke="#e6c47c" stroke-width="4.1" opacity="0.23"/>
<line x1="283" y1="650" x2="354" y2="473" stroke="#cfa050" stroke-width="1.8" opacity="0.27"/>
<line x1="170" y1="361" x2="185" y2="240" stroke="#c08a38" stroke-width="2.7" opacity="0.22"/>
<line x1="12" y1="574" x2="29" y2="441" stroke="#f0d698" stroke-width="2.7" opacity="0.19"/>
<line x1="428" y1="412" x2="437" y2="258" stroke="#e6c47c" stroke-width="3.4" opacity="0.32"/>
<line x1="367" y1="462" x2="363" y2="325" stroke="#b98434" stroke-width="3.9" opacity="0.19"/>
<line x1="441" y1="347" x2="459" y2="259" stroke="#dcae5a" stroke-width="2.0" opacity="0.45"/>
<line x1="191" y1="407" x2="197" y2="310" stroke="#b98434" stroke-width="1.7" opacity="0.22"/>
<line x1="47" y1="439" x2="75" y2="352" stroke="#9c6c2a" stroke-width="2.8" opacity="0.31"/>
<line x1="418" y1="395" x2="431" y2="329" stroke="#9c6c2a" stroke-width="4.6" opacity="0.41"/>
<line x1="200" y1="514" x2="212" y2="325" stroke="#a8742c" stroke-width="4.0" opacity="0.42"/>
<line x1="523" y1="676" x2="584" y2="511" stroke="#a8742c" stroke-width="2.2" opacity="0.23"/>
<line x1="450" y1="487" x2="439" y2="301" stroke="#e6c47c" stroke-width="2.3" opacity="0.35"/>
<line x1="334" y1="357" x2="388" y2="209" stroke="#f0d698" stroke-width="2.8" opacity="0.33"/>
<line x1="363" y1="588" x2="370" y2="414" stroke="#e6c47c" stroke-width="2.0" opacity="0.37"/>
<line x1="249" y1="579" x2="301" y2="463" stroke="#e6c47c" stroke-width="4.8" opacity="0.23"/>
<line x1="349" y1="504" x2="390" y2="347" stroke="#c08a38" stroke-width="1.9" opacity="0.35"/>
<line x1="74" y1="394" x2="75" y2="208" stroke="#dcae5a" stroke-width="3.6" opacity="0.42"/>
<line x1="201" y1="548" x2="292" y2="356" stroke="#c08a38" stroke-width="2.5" opacity="0.36"/>
<line x1="86" y1="365" x2="79" y2="160" stroke="#a8742c" stroke-width="1.6" opacity="0.28"/>
<line x1="335" y1="409" x2="357" y2="352" stroke="#b98434" stroke-width="2.2" opacity="0.45"/>
<line x1="288" y1="377" x2="309" y2="316" stroke="#c08a38" stroke-width="3.7" opacity="0.19"/>
<line x1="25" y1="629" x2="64" y2="530" stroke="#a8742c" stroke-width="1.9" opacity="0.42"/>
<line x1="-2" y1="447" x2="1" y2="351" stroke="#9c6c2a" stroke-width="2.2" opacity="0.29"/>
<line x1="15" y1="445" x2="52" y2="264" stroke="#cfa050" stroke-width="3.5" opacity="0.31"/>
<line x1="405" y1="532" x2="420" y2="444" stroke="#9c6c2a" stroke-width="2.0" opacity="0.34"/>
<line x1="326" y1="682" x2="404" y2="500" stroke="#dcae5a" stroke-width="3.1" opacity="0.32"/>
<line x1="-6" y1="666" x2="47" y2="532" stroke="#9c6c2a" stroke-width="3.8" opacity="0.19"/>
<line x1="208" y1="377" x2="227" y2="174" stroke="#b98434" stroke-width="3.7" opacity="0.41"/>
<line x1="136" y1="390" x2="149" y2="304" stroke="#dcae5a" stroke-width="3.9" opacity="0.30"/>
<line x1="63" y1="487" x2="57" y2="391" stroke="#e6c47c" stroke-width="1.8" opacity="0.32"/>
<line x1="-1" y1="581" x2="73" y2="392" stroke="#dcae5a" stroke-width="4.5" opacity="0.41"/>
<line x1="517" y1="404" x2="521" y2="224" stroke="#b98434" stroke-width="5.0" opacity="0.33"/>
<line x1="371" y1="419" x2="446" y2="252" stroke="#e6c47c" stroke-width="1.9" opacity="0.30"/>
<line x1="4" y1="406" x2="30" y2="331" stroke="#a8742c" stroke-width="1.8" opacity="0.43"/>
<line x1="290" y1="686" x2="303" y2="470" stroke="#cfa050" stroke-width="3.0" opacity="0.24"/>
<line x1="390" y1="364" x2="434" y2="270" stroke="#e6c47c" stroke-width="2.6" opacity="0.22"/>
<line x1="163" y1="579" x2="174" y2="481" stroke="#b98434" stroke-width="2.3" opacity="0.32"/>
<line x1="277" y1="426" x2="272" y2="240" stroke="#a8742c" stroke-width="1.7" opacity="0.41"/>
<line x1="406" y1="336" x2="423" y2="135" stroke="#9c6c2a" stroke-width="4.9" opacity="0.24"/>
<line x1="323" y1="573" x2="338" y2="468" stroke="#9c6c2a" stroke-width="4.0" opacity="0.19"/>
<line x1="1" y1="407" x2="62" y2="193" stroke="#cfa050" stroke-width="4.4" opacity="0.36"/>
<line x1="147" y1="620" x2="191" y2="463" stroke="#b98434" stroke-width="4.9" opacity="0.37"/>
<line x1="166" y1="688" x2="180" y2="608" stroke="#b98434" stroke-width="4.4" opacity="0.37"/>
<line x1="187" y1="335" x2="218" y2="271" stroke="#b98434" stroke-width="4.5" opacity="0.27"/>
<line x1="106" y1="416" x2="205" y2="210" stroke="#cfa050" stroke-width="2.8" opacity="0.27"/>
<line x1="137" y1="646" x2="236" y2="443" stroke="#a8742c" stroke-width="4.1" opacity="0.22"/>
<line x1="51" y1="339" x2="49" y2="272" stroke="#f0d698" stroke-width="2.3" opacity="0.40"/>
<line x1="408" y1="556" x2="406" y2="476" stroke="#a8742c" stroke-width="2.7" opacity="0.22"/>
<line x1="177" y1="470" x2="203" y2="334" stroke="#f0d698" stroke-width="2.7" opacity="0.23"/>
<line x1="258" y1="483" x2="331" y2="313" stroke="#e6c47c" stroke-width="2.2" opacity="0.39"/>
<line x1="17" y1="394" x2="39" y2="323" stroke="#9c6c2a" stroke-width="4.6" opacity="0.24"/>
<line x1="376" y1="564" x2="438" y2="433" stroke="#f0d698" stroke-width="2.3" opacity="0.34"/>
<line x1="12" y1="407" x2="30" y2="221" stroke="#a8742c" stroke-width="2.1" opacity="0.36"/>
<line x1="530" y1="474" x2="568" y2="307" stroke="#c08a38" stroke-width="3.4" opacity="0.35"/>
<line x1="32" y1="395" x2="49" y2="297" stroke="#b98434" stroke-width="4.2" opacity="0.22"/>
<line x1="464" y1="626" x2="473" y2="550" stroke="#a8742c" stroke-width="4.6" opacity="0.29"/>
<line x1="-5" y1="507" x2="75" y2="305" stroke="#9c6c2a" stroke-width="3.2" opacity="0.44"/>
<line x1="462" y1="387" x2="467" y2="305" stroke="#9c6c2a" stroke-width="4.7" opacity="0.38"/>
<line x1="292" y1="503" x2="283" y2="320" stroke="#dcae5a" stroke-width="3.3" opacity="0.22"/>
<line x1="394" y1="362" x2="394" y2="282" stroke="#c08a38" stroke-width="4.9" opacity="0.18"/>
<line x1="418" y1="346" x2="430" y2="203" stroke="#9c6c2a" stroke-width="1.9" opacity="0.33"/>
<line x1="154" y1="645" x2="193" y2="564" stroke="#9c6c2a" stroke-width="2.2" opacity="0.42"/>
<line x1="261" y1="648" x2="296" y2="482" stroke="#c08a38" stroke-width="4.9" opacity="0.34"/>
<line x1="98" y1="550" x2="118" y2="444" stroke="#c08a38" stroke-width="2.4" opacity="0.26"/>
<line x1="15" y1="417" x2="72" y2="288" stroke="#cfa050" stroke-width="3.2" opacity="0.25"/>
<line x1="184" y1="513" x2="197" y2="366" stroke="#b98434" stroke-width="4.1" opacity="0.20"/>
<line x1="50" y1="463" x2="48" y2="300" stroke="#9c6c2a" stroke-width="2.6" opacity="0.40"/>
<line x1="268" y1="377" x2="274" y2="179" stroke="#cfa050" stroke-width="4.7" opacity="0.23"/>
<line x1="447" y1="581" x2="476" y2="449" stroke="#9c6c2a" stroke-width="1.9" opacity="0.39"/>
<line x1="317" y1="387" x2="350" y2="304" stroke="#c08a38" stroke-width="1.8" opacity="0.31"/>
<line x1="120" y1="371" x2="178" y2="211" stroke="#9c6c2a" stroke-width="3.9" opacity="0.18"/>
<line x1="251" y1="580" x2="312" y2="391" stroke="#a8742c" stroke-width="3.3" opacity="0.42"/>
<line x1="264" y1="349" x2="306" y2="258" stroke="#f0d698" stroke-width="2.3" opacity="0.32"/>
<line x1="478" y1="456" x2="560" y2="272" stroke="#b98434" stroke-width="2.8" opacity="0.26"/>
<line x1="375" y1="603" x2="386" y2="472" stroke="#b98434" stroke-width="4.6" opacity="0.42"/>
<line x1="478" y1="350" x2="473" y2="205" stroke="#cfa050" stroke-width="4.9" opacity="0.37"/>
<line x1="186" y1="395" x2="227" y2="192" stroke="#e6c47c" stroke-width="3.4" opacity="0.24"/>
<line x1="70" y1="416" x2="83" y2="276" stroke="#c08a38" stroke-width="2.5" opacity="0.24"/>
<line x1="394" y1="668" x2="400" y2="557" stroke="#c08a38" stroke-width="4.4" opacity="0.42"/>
<line x1="62" y1="346" x2="52" y2="197" stroke="#a8742c" stroke-width="3.2" opacity="0.33"/>
<line x1="348" y1="597" x2="438" y2="391" stroke="#cfa050" stroke-width="2.1" opacity="0.42"/>
<line x1="368" y1="610" x2="393" y2="497" stroke="#b98434" stroke-width="2.3" opacity="0.40"/>
<line x1="419" y1="511" x2="460" y2="328" stroke="#cfa050" stroke-width="4.4" opacity="0.27"/>
<line x1="181" y1="477" x2="213" y2="375" stroke="#9c6c2a" stroke-width="2.6" opacity="0.29"/>
<line x1="262" y1="665" x2="253" y2="454" stroke="#e6c47c" stroke-width="4.7" opacity="0.29"/>
<line x1="345" y1="338" x2="353" y2="168" stroke="#f0d698" stroke-width="2.0" opacity="0.28"/>
<line x1="203" y1="353" x2="224" y2="130" stroke="#a8742c" stroke-width="2.8" opacity="0.19"/>
<line x1="222" y1="479" x2="227" y2="347" stroke="#cfa050" stroke-width="1.8" opacity="0.31"/>
<line x1="509" y1="531" x2="499" y2="310" stroke="#c08a38" stroke-width="4.3" opacity="0.30"/>
<line x1="494" y1="606" x2="519" y2="522" stroke="#b98434" stroke-width="2.4" opacity="0.23"/>
<line x1="357" y1="479" x2="378" y2="275" stroke="#c08a38" stroke-width="3.4" opacity="0.38"/>
<line x1="288" y1="618" x2="290" y2="478" stroke="#dcae5a" stroke-width="1.7" opacity="0.33"/>
<line x1="490" y1="361" x2="546" y2="188" stroke="#c08a38" stroke-width="3.7" opacity="0.34"/>
<line x1="249" y1="488" x2="278" y2="375" stroke="#9c6c2a" stroke-width="3.4" opacity="0.30"/>
<line x1="271" y1="585" x2="343" y2="400" stroke="#a8742c" stroke-width="4.0" opacity="0.19"/>
<line x1="457" y1="391" x2="472" y2="178" stroke="#c08a38" stroke-width="4.1" opacity="0.30"/>
<line x1="467" y1="459" x2="486" y2="356" stroke="#e6c47c" stroke-width="3.3" opacity="0.37"/>
<line x1="498" y1="439" x2="531" y2="367" stroke="#dcae5a" stroke-width="2.3" opacity="0.24"/>
<line x1="519" y1="539" x2="598" y2="323" stroke="#f0d698" stroke-width="2.4" opacity="0.45"/>
<line x1="477" y1="331" x2="549" y2="177" stroke="#a8742c" stroke-width="1.7" opacity="0.28"/>
<line x1="351" y1="641" x2="366" y2="513" stroke="#f0d698" stroke-width="3.2" opacity="0.21"/>
<line x1="353" y1="564" x2="371" y2="497" stroke="#e6c47c" stroke-width="3.9" opacity="0.20"/>
<line x1="481" y1="562" x2="549" y2="383" stroke="#e6c47c" stroke-width="2.7" opacity="0.19"/>
<line x1="274" y1="641" x2="289" y2="538" stroke="#9c6c2a" stroke-width="3.3" opacity="0.30"/>
<line x1="143" y1="685" x2="143" y2="593" stroke="#b98434" stroke-width="1.6" opacity="0.35"/>
<line x1="333" y1="665" x2="386" y2="522" stroke="#dcae5a" stroke-width="1.8" opacity="0.26"/>
<line x1="46" y1="580" x2="52" y2="426" stroke="#b98434" stroke-width="2.4" opacity="0.30"/>
<line x1="123" y1="409" x2="144" y2="340" stroke="#dcae5a" stroke-width="1.7" opacity="0.31"/>
<line x1="255" y1="435" x2="258" y2="290" stroke="#b98434" stroke-width="4.7" opacity="0.21"/>
<line x1="306" y1="570" x2="349" y2="421" stroke="#dcae5a" stroke-width="4.0" opacity="0.43"/>
<line x1="296" y1="580" x2="312" y2="509" stroke="#b98434" stroke-width="1.7" opacity="0.19"/>
<line x1="265" y1="500" x2="306" y2="344" stroke="#9c6c2a" stroke-width="4.9" opacity="0.22"/>
<line x1="467" y1="687" x2="471" y2="622" stroke="#cfa050" stroke-width="2.2" opacity="0.26"/>
<line x1="129" y1="684" x2="124" y2="587" stroke="#a8742c" stroke-width="2.5" opacity="0.36"/>
<line x1="190" y1="431" x2="253" y2="295" stroke="#b98434" stroke-width="2.5" opacity="0.34"/>
<line x1="181" y1="582" x2="236" y2="437" stroke="#f0d698" stroke-width="4.4" opacity="0.41"/>
<line x1="76" y1="645" x2="109" y2="557" stroke="#e6c47c" stroke-width="4.3" opacity="0.43"/>
<line x1="480" y1="363" x2="484" y2="166" stroke="#e6c47c" stroke-width="4.0" opacity="0.31"/>
<line x1="27" y1="688" x2="50" y2="497" stroke="#cfa050" stroke-width="2.7" opacity="0.24"/>
<line x1="92" y1="550" x2="122" y2="457" stroke="#dcae5a" stroke-width="2.9" opacity="0.18"/>
<line x1="284" y1="568" x2="370" y2="360" stroke="#e6c47c" stroke-width="2.5" opacity="0.35"/>
<line x1="328" y1="531" x2="347" y2="461" stroke="#b98434" stroke-width="3.3" opacity="0.34"/>
<line x1="486" y1="612" x2="494" y2="510" stroke="#a8742c" stroke-width="5.0" opacity="0.33"/>
<line x1="331" y1="470" x2="369" y2="365" stroke="#9c6c2a" stroke-width="4.6" opacity="0.37"/>
<line x1="-6" y1="386" x2="29" y2="240" stroke="#b98434" stroke-width="3.9" opacity="0.41"/>
<line x1="222" y1="673" x2="218" y2="575" stroke="#9c6c2a" stroke-width="4.9" opacity="0.40"/>
<line x1="417" y1="437" x2="457" y2="291" stroke="#9c6c2a" stroke-width="4.7" opacity="0.40"/>
<line x1="373" y1="683" x2="372" y2="615" stroke="#a8742c" stroke-width="4.7" opacity="0.40"/>
<line x1="50" y1="511" x2="87" y2="320" stroke="#e6c47c" stroke-width="2.2" opacity="0.18"/>
<line x1="465" y1="681" x2="482" y2="520" stroke="#c08a38" stroke-width="2.1" opacity="0.38"/>
<line x1="174" y1="608" x2="207" y2="444" stroke="#9c6c2a" stroke-width="3.5" opacity="0.29"/>
<line x1="256" y1="369" x2="278" y2="183" stroke="#cfa050" stroke-width="2.8" opacity="0.40"/>
<line x1="137" y1="467" x2="193" y2="272" stroke="#e6c47c" stroke-width="3.4" opacity="0.29"/>
<line x1="73" y1="422" x2="142" y2="268" stroke="#c08a38" stroke-width="3.5" opacity="0.41"/>
</g>
<g filter="url(#bl3)">
<g transform="translate(49.8 324.5) rotate(99.3)" opacity="0.90">
<path d="M-123.1,0 Q-123.1,-15.1 0,-15.1 Q123.1,-15.1 123.1,0 Q123.1,15.1 0,15.1 Q-123.1,15.1 -123.1,0 Z" fill="#b08046"/>
<line x1="-117.1" y1="0" x2="117.1" y2="0" stroke="#85582a" stroke-width="18.7" stroke-dasharray="9.7 6.6" opacity="0.6"/>
</g>
<g transform="translate(195.1 384.2) rotate(140.5)" opacity="0.90">
<path d="M-103.2,0 Q-103.2,-16.9 0,-16.9 Q103.2,-16.9 103.2,0 Q103.2,16.9 0,16.9 Q-103.2,16.9 -103.2,0 Z" fill="#b3864a"/>
<line x1="-97.2" y1="0" x2="97.2" y2="0" stroke="#8a5e30" stroke-width="21.0" stroke-dasharray="10.8 7.5" opacity="0.6"/>
</g>
<g transform="translate(294.7 270.8) rotate(137.5)" opacity="0.85">
<path d="M-64.8,0 Q-64.8,-11.4 0,-11.4 Q64.8,-11.4 64.8,0 Q64.8,11.4 0,11.4 Q-64.8,11.4 -64.8,0 Z" fill="#c49a5c"/>
<line x1="-58.8" y1="0" x2="58.8" y2="0" stroke="#a07844" stroke-width="14.2" stroke-dasharray="7.3 5.0" opacity="0.6"/>
</g>
<g transform="translate(257.8 479.8) rotate(116.6)" opacity="0.90">
<path d="M-77.9,0 Q-77.9,-14.7 0,-14.7 Q77.9,-14.7 77.9,0 Q77.9,14.7 0,14.7 Q-77.9,14.7 -77.9,0 Z" fill="#ad7e42"/>
<line x1="-71.9" y1="0" x2="71.9" y2="0" stroke="#85582a" stroke-width="18.2" stroke-dasharray="9.4 6.4" opacity="0.6"/>
</g>
<g transform="translate(436.2 466.9) rotate(158.8)" opacity="0.90">
<path d="M-96.3,0 Q-96.3,-16.9 0,-16.9 Q96.3,-16.9 96.3,0 Q96.3,16.9 0,16.9 Q-96.3,16.9 -96.3,0 Z" fill="#ddc08a"/>
<line x1="-90.3" y1="0" x2="90.3" y2="0" stroke="#c09c62" stroke-width="21.0" stroke-dasharray="10.8 7.5" opacity="0.6"/>
</g>
<g transform="translate(103.5 308.6) rotate(107.7)" opacity="0.80">
<path d="M-52.3,0 Q-52.3,-10.5 0,-10.5 Q52.3,-10.5 52.3,0 Q52.3,10.5 0,10.5 Q-52.3,10.5 -52.3,0 Z" fill="#d9ab62"/>
<line x1="-46.3" y1="0" x2="46.3" y2="0" stroke="#c08e48" stroke-width="13.1" stroke-dasharray="6.7 4.6" opacity="0.6"/>
</g>
<g transform="translate(457.9 642.1) rotate(164.6)" opacity="0.85">
<path d="M-78.5,0 Q-78.5,-13.7 0,-13.7 Q78.5,-13.7 78.5,0 Q78.5,13.7 0,13.7 Q-78.5,13.7 -78.5,0 Z" fill="#d2b276"/>
<line x1="-72.5" y1="0" x2="72.5" y2="0" stroke="#b8935a" stroke-width="17.0" stroke-dasharray="8.8 6.0" opacity="0.6"/>
</g>
<g transform="translate(5.0 175.2) rotate(97.1)" opacity="0.80">
<path d="M-24.1,0 Q-24.1,-9.2 0,-9.2 Q24.1,-9.2 24.1,0 Q24.1,9.2 0,9.2 Q-24.1,9.2 -24.1,0 Z" fill="#b78a4c"/>
<line x1="-18.1" y1="0" x2="18.1" y2="0" stroke="#94683a" stroke-width="11.4" stroke-dasharray="5.9 4.0" opacity="0.6"/>
</g>
<g transform="translate(11.9 288.7) rotate(103.2)" opacity="0.70">
<path d="M-34.8,0 Q-34.8,-10.1 0,-10.1 Q34.8,-10.1 34.8,0 Q34.8,10.1 0,10.1 Q-34.8,10.1 -34.8,0 Z" fill="#c3975a"/>
<line x1="-28.8" y1="0" x2="28.8" y2="0" stroke="#9c7040" stroke-width="12.5" stroke-dasharray="6.4 4.4" opacity="0.6"/>
</g>
<g transform="translate(396.2 390.2) rotate(109.3)" opacity="0.50">
<path d="M-42.2,0 Q-42.2,-9.2 0,-9.2 Q42.2,-9.2 42.2,0 Q42.2,9.2 0,9.2 Q-42.2,9.2 -42.2,0 Z" fill="#cfa461"/>
<line x1="-36.2" y1="0" x2="36.2" y2="0" stroke="#b4884a" stroke-width="11.4" stroke-dasharray="5.9 4.0" opacity="0.6"/>
</g>
<line x1="175" y1="426" x2="186" y2="494" stroke="#c7c852" stroke-width="16" stroke-linecap="round" opacity="0.85"/>
<line x1="139" y1="528" x2="140" y2="585" stroke="#d0ca58" stroke-width="11" stroke-linecap="round" opacity="0.85"/>
</g>
<g filter="url(#bl1)" stroke-linecap="round" fill="none">
<line x1="279" y1="315" x2="526" y2="187" stroke="#a8998c" stroke-width="1.8" opacity="0.6"/>
<line x1="287" y1="319" x2="526" y2="235" stroke="#a8998c" stroke-width="1.8" opacity="0.6"/>
<line x1="259" y1="327" x2="518" y2="131" stroke="#a8998c" stroke-width="1.8" opacity="0.6"/>
<line x1="342" y1="223" x2="526" y2="100" stroke="#a8998c" stroke-width="1.8" opacity="0.6"/>
<line x1="334" y1="235" x2="478" y2="60" stroke="#a8998c" stroke-width="1.8" opacity="0.6"/>
<line x1="279" y1="311" x2="438" y2="100" stroke="#a8998c" stroke-width="1.8" opacity="0.6"/>
<line x1="239" y1="342" x2="358" y2="139" stroke="#a8998c" stroke-width="1.8" opacity="0.6"/>
<line x1="350" y1="239" x2="526" y2="167" stroke="#a8998c" stroke-width="1.8" opacity="0.6"/>
<line x1="199" y1="358" x2="311" y2="119" stroke="#a8998c" stroke-width="1.8" opacity="0.6"/>
</g>
</g>
<rect x="1313.5" y="363.5" width="684.5" height="466" rx="1" fill="#fff" stroke="#3d5f8f" stroke-width="9"/>
<rect x="1335" y="379" width="99" height="103" rx="4" fill="#ff0000"/>
<rect x="1339" y="542" width="96" height="99" fill="#92d050"/>
<rect x="1339" y="695" width="96" height="99" fill="#558ed5"/>
<rect x="203.0" y="1096.8" width="1336.0" height="3.4" fill="#d9d9d9"/>
<rect x="203.0" y="1294.9" width="1336.0" height="3.4" fill="#d9d9d9"/>
<rect x="203.0" y="1493.0" width="1336.0" height="3.4" fill="#d9d9d9"/>
<rect x="203.0" y="1691.1" width="1336.0" height="3.4" fill="#d9d9d9"/>
<rect x="203.0" y="1889.2" width="1336.0" height="3.4" fill="#d9d9d9"/>
<rect x="203.0" y="2087.3" width="1336.0" height="3.4" fill="#d9d9d9"/>
<rect x="230.0" y="1445.0" width="42.6" height="642.5" fill="#5b9bd5"/>
<rect x="230.0" y="1105.3" width="42.6" height="339.7" fill="#92d050"/>
<rect x="230.0" y="1097.3" width="42.6" height="8.0" fill="#ff0000"/>
<rect x="325.4" y="1555.2" width="42.6" height="532.3" fill="#5b9bd5"/>
<rect x="325.4" y="1105.0" width="42.6" height="450.2" fill="#92d050"/>
<rect x="325.4" y="1097.3" width="42.6" height="7.7" fill="#ff0000"/>
<rect x="420.9" y="1641.2" width="42.6" height="446.3" fill="#5b9bd5"/>
<rect x="420.9" y="1111.8" width="42.6" height="529.4" fill="#92d050"/>
<rect x="420.9" y="1097.3" width="42.6" height="14.5" fill="#ff0000"/>
<rect x="516.3" y="1335.3" width="42.6" height="752.2" fill="#5b9bd5"/>
<rect x="516.3" y="1100.8" width="42.6" height="234.5" fill="#92d050"/>
<rect x="516.3" y="1097.3" width="42.6" height="3.5" fill="#ff0000"/>
<rect x="611.7" y="1386.0" width="42.6" height="701.5" fill="#5b9bd5"/>
<rect x="611.7" y="1100.8" width="42.6" height="285.2" fill="#92d050"/>
<rect x="611.7" y="1097.3" width="42.6" height="3.5" fill="#ff0000"/>
<rect x="707.2" y="1406.0" width="42.6" height="681.5" fill="#5b9bd5"/>
<rect x="707.2" y="1097.3" width="42.6" height="308.7" fill="#92d050"/>
<rect x="802.6" y="1363.0" width="42.6" height="724.5" fill="#5b9bd5"/>
<rect x="802.6" y="1097.3" width="42.6" height="265.7" fill="#92d050"/>
<rect x="898.0" y="1241.6" width="42.6" height="845.9" fill="#5b9bd5"/>
<rect x="898.0" y="1097.3" width="42.6" height="144.3" fill="#92d050"/>
<rect x="993.5" y="1165.0" width="42.6" height="922.5" fill="#5b9bd5"/>
<rect x="993.5" y="1097.3" width="42.6" height="67.7" fill="#92d050"/>
<rect x="1088.9" y="1120.2" width="42.6" height="967.3" fill="#5b9bd5"/>
<rect x="1088.9" y="1097.3" width="42.6" height="22.9" fill="#92d050"/>
<rect x="1184.3" y="1120.2" width="42.6" height="967.3" fill="#5b9bd5"/>
<rect x="1184.3" y="1097.3" width="42.6" height="22.9" fill="#92d050"/>
<rect x="1279.7" y="1115.8" width="42.6" height="971.7" fill="#5b9bd5"/>
<rect x="1279.7" y="1097.3" width="42.6" height="18.5" fill="#92d050"/>
<rect x="1375.2" y="1146.0" width="42.6" height="941.5" fill="#5b9bd5"/>
<rect x="1375.2" y="1100.8" width="42.6" height="45.2" fill="#92d050"/>
<rect x="1375.2" y="1097.3" width="42.6" height="3.5" fill="#ff0000"/>
<rect x="1470.6" y="1158.8" width="42.6" height="928.7" fill="#5b9bd5"/>
<rect x="1470.6" y="1097.3" width="42.6" height="61.5" fill="#92d050"/>
<rect x="1852.0" y="1096.2" width="1330.0" height="3.4" fill="#d9d9d9"/>
<rect x="1852.0" y="1293.4" width="1330.0" height="3.4" fill="#d9d9d9"/>
<rect x="1852.0" y="1490.6" width="1330.0" height="3.4" fill="#d9d9d9"/>
<rect x="1852.0" y="1687.9" width="1330.0" height="3.4" fill="#d9d9d9"/>
<rect x="1852.0" y="1885.1" width="1330.0" height="3.4" fill="#d9d9d9"/>
<rect x="1852.0" y="2082.3" width="1330.0" height="3.4" fill="#d9d9d9"/>
<rect x="1878.8" y="1569.4" width="41.5" height="513.1" fill="#5b9bd5"/>
<rect x="1878.8" y="1111.8" width="41.5" height="457.6" fill="#92d050"/>
<rect x="1878.8" y="1096.5" width="41.5" height="15.3" fill="#ff0000"/>
<rect x="1973.8" y="1409.3" width="41.5" height="673.2" fill="#5b9bd5"/>
<rect x="1973.8" y="1096.5" width="41.5" height="312.8" fill="#92d050"/>
<rect x="2068.8" y="1372.0" width="41.5" height="710.5" fill="#5b9bd5"/>
<rect x="2068.8" y="1096.5" width="41.5" height="275.5" fill="#92d050"/>
<rect x="2163.8" y="1231.7" width="41.5" height="850.8" fill="#5b9bd5"/>
<rect x="2163.8" y="1096.5" width="41.5" height="135.2" fill="#92d050"/>
<rect x="2258.8" y="1230.0" width="41.5" height="852.5" fill="#5b9bd5"/>
<rect x="2258.8" y="1096.5" width="41.5" height="133.5" fill="#92d050"/>
<rect x="2353.8" y="1175.2" width="41.5" height="907.3" fill="#5b9bd5"/>
<rect x="2353.8" y="1096.5" width="41.5" height="78.7" fill="#92d050"/>
<rect x="2448.8" y="1096.5" width="41.5" height="986.0" fill="#5b9bd5"/>
<rect x="2543.8" y="1146.0" width="41.5" height="936.5" fill="#5b9bd5"/>
<rect x="2543.8" y="1096.5" width="41.5" height="49.5" fill="#92d050"/>
<rect x="2638.8" y="1125.6" width="41.5" height="956.9" fill="#5b9bd5"/>
<rect x="2638.8" y="1096.5" width="41.5" height="29.1" fill="#92d050"/>
<rect x="2733.8" y="1120.0" width="41.5" height="962.5" fill="#5b9bd5"/>
<rect x="2733.8" y="1096.5" width="41.5" height="23.5" fill="#92d050"/>
<rect x="2828.8" y="1117.6" width="41.5" height="964.9" fill="#5b9bd5"/>
<rect x="2828.8" y="1096.5" width="41.5" height="21.1" fill="#92d050"/>
<rect x="2923.8" y="1200.7" width="41.5" height="881.8" fill="#5b9bd5"/>
<rect x="2923.8" y="1096.5" width="41.5" height="104.2" fill="#92d050"/>
<rect x="3018.8" y="1150.8" width="41.5" height="931.7" fill="#5b9bd5"/>
<rect x="3018.8" y="1096.5" width="41.5" height="54.3" fill="#92d050"/>
<rect x="3113.8" y="1153.0" width="41.5" height="929.5" fill="#5b9bd5"/>
<rect x="3113.8" y="1096.5" width="41.5" height="56.5" fill="#92d050"/>
<text transform="matrix(0.9949 0 0 0.9355 58.82 126.98)" font-size="100" class="b">곡류</text>
<text transform="matrix(0.9942 0 0 0.9355 264.72 126.98)" font-size="100" class="b">전체</text>
<text transform="matrix(0.6793 0 0 0.6860 124.78 251.33)" font-size="100" class="b">현미</text>
<text transform="matrix(0.5643 0 0 0.6860 252.18 251.33)" font-size="100" class="b">(</text>
<text transform="matrix(0.7119 0 0 0.6860 272.15 251.33)" font-size="100" class="b">전량</text>
<text transform="matrix(0.6932 0 0 0.6860 418.23 251.33)" font-size="100" class="b">전수</text>
<text transform="matrix(0.6981 0 0 0.6860 562.21 251.33)" font-size="100" class="b">조사한</text>
<text transform="matrix(0.6775 0 0 0.6860 773.79 251.33)" font-size="100" class="b">현미</text>
<text transform="matrix(0.7118 0 0 0.6860 915.56 251.33)" font-size="100" class="b">제외</text>
<text transform="matrix(0.5500 0 0 0.6860 1047.00 251.33)" font-size="100" class="b">)</text>
<text transform="matrix(0.8571 0 0 0.6860 1060.80 251.33)" font-size="100" class="b">,</text>
<text transform="matrix(0.6970 0 0 0.6860 1096.81 251.33)" font-size="100" class="b">보리</text>
<text transform="matrix(0.9286 0 0 0.6860 1221.50 251.33)" font-size="100" class="b">,</text>
<text transform="matrix(0.6940 0 0 0.6860 1258.14 251.33)" font-size="100" class="b">메밀</text>
<text transform="matrix(0.9071 0 0 0.6860 1382.45 251.33)" font-size="100" class="b">,</text>
<text transform="matrix(0.7000 0 0 0.6860 1419.60 251.33)" font-size="100" class="b">대두</text>
<text transform="matrix(0.8792 0 0 0.6351 27.48 254.28)" font-size="100" class="l">（</text>
<text transform="matrix(0.9417 0 0 0.6351 1557.29 254.28)" font-size="100" class="l">）</text>
<text transform="matrix(1.1913 0 0 1.1075 2153.56 167.03)" font-size="100" class="b">맥류</text>
<text transform="matrix(0.8689 0 0 0.8624 2376.18 165.84)" font-size="100" class="b">밀</text>
<text transform="matrix(1.2143 0 0 0.8624 2450.50 165.84)" font-size="100" class="b">,</text>
<text transform="matrix(0.8846 0 0 0.8624 2510.96 165.84)" font-size="100" class="b">보리</text>
<text transform="matrix(1.1929 0 0 0.8624 2670.65 165.84)" font-size="100" class="b">,</text>
<text transform="matrix(0.8924 0 0 0.8624 2730.43 165.84)" font-size="100" class="b">호밀</text>
<text transform="matrix(0.8571 0 0 0.5548 1490.43 452.41)" font-size="100" class="b">:</text>
<text transform="matrix(0.6038 0 0 0.5548 1532.98 452.41)" font-size="100" class="b">기준치</text>
<text transform="matrix(0.6040 0 0 0.5548 1719.28 452.41)" font-size="100" class="b">초과</text>
<text transform="matrix(0.8571 0 0 0.5548 1490.43 601.41)" font-size="100" class="b">:</text>
<text transform="matrix(0.6038 0 0 0.5548 1532.98 601.41)" font-size="100" class="b">기준치</text>
<text transform="matrix(0.6000 0 0 0.5548 1718.80 601.41)" font-size="100" class="b">이하</text>
<text transform="matrix(0.8571 0 0 0.5634 1490.43 748.93)" font-size="100" class="b">:</text>
<text transform="matrix(0.5931 0 0 0.5634 1534.03 748.93)" font-size="100" class="b">검출</text>
<text transform="matrix(0.5893 0 0 0.5634 1665.34 748.93)" font-size="100" class="b">하한</text>
<text transform="matrix(0.5988 0 0 0.5634 1792.61 748.93)" font-size="100" class="b">미만</text>
<text transform="matrix(0.5962 0 0 0.5581 58.62 999.68)" font-size="100" class="b">기준치</text>
<text transform="matrix(0.6056 0 0 0.5581 243.78 999.68)" font-size="100" class="b">초과</text>
<text transform="matrix(0.5930 0 0 0.5581 374.26 999.68)" font-size="100" class="b">비율</text>
<text transform="matrix(0.5985 0 0 0.5581 1715.71 999.68)" font-size="100" class="b">기준치</text>
<text transform="matrix(0.6073 0 0 0.5581 1901.07 999.68)" font-size="100" class="b">초과</text>
<text transform="matrix(0.5918 0 0 0.5581 2031.47 999.68)" font-size="100" class="b">비율</text>
<text transform="matrix(1.4409 0 0 1.4500 207.77 2322.30)" font-size="100" class="c1">○</text>
<text transform="matrix(1.3273 0 0 1.3364 1930.38 2306.89)" font-size="100" class="b c2">○</text>
<text transform="matrix(0.7230 0 0 0.7662 309.18 2305.63)" font-size="100">2016</text>
<text transform="matrix(0.7769 0 0 0.7692 475.85 2306.85)" font-size="100" class="dl">년산</text>
<text transform="matrix(0.7941 0 0 0.7692 646.85 2306.85)" font-size="100" class="dl">이후</text>
<text transform="matrix(0.7983 0 0 0.7692 820.01 2306.85)" font-size="100" class="dl">교차</text>
<text transform="matrix(0.7992 0 0 0.7692 994.50 2306.85)" font-size="100" class="dl">오염에</text>
<text transform="matrix(0.8006 0 0 0.7692 1241.60 2306.85)" font-size="100" class="dl">의한</text>
<text transform="matrix(0.7959 0 0 0.7692 1417.63 2306.85)" font-size="100" class="dl">것을</text>
<text transform="matrix(0.7992 0 0 0.7791 311.00 2435.27)" font-size="100" class="dl">제외하고</text>
<text transform="matrix(0.7914 0 0 0.7791 633.26 2435.27)" font-size="100" class="dl">기준치</text>
<text transform="matrix(0.7955 0 0 0.7791 879.82 2435.27)" font-size="100" class="dl">초과</text>
<text transform="matrix(0.7807 0 0 0.7791 1057.74 2435.27)" font-size="100" class="dl">없음</text>
<text transform="matrix(0.6684 0 0 0.6620 2008.36 2293.74)" font-size="100" class="d2">2012</text>
<text transform="matrix(0.7757 0 0 0.7440 2161.67 2293.95)" font-size="100" class="dl">년산</text>
<text transform="matrix(0.7929 0 0 0.7440 2322.66 2293.95)" font-size="100" class="dl">이후</text>
<text transform="matrix(0.8055 0 0 0.7440 2489.56 2293.95)" font-size="100" class="dl">기준치</text>
<text transform="matrix(0.7960 0 0 0.7440 2728.62 2293.95)" font-size="100" class="dl">초과</text>
<text transform="matrix(0.7637 0 0 0.7440 2902.25 2293.95)" font-size="100" class="dl">없음</text>
<g opacity="0.999">
<text transform="matrix(0.4241 0 0 0.5183 74.51 1115.88)" font-size="100" class="ay">100<tspan textLength="55.6" lengthAdjust="spacingAndGlyphs">%</tspan></text>
<text transform="matrix(0.4261 0 0 0.5183 97.50 1313.98)" font-size="100" class="ay">80<tspan textLength="55.6" lengthAdjust="spacingAndGlyphs">%</tspan></text>
<text transform="matrix(0.4288 0 0 0.5183 97.06 1512.08)" font-size="100" class="ay">60<tspan textLength="55.6" lengthAdjust="spacingAndGlyphs">%</tspan></text>
<text transform="matrix(0.4209 0 0 0.5183 98.36 1710.18)" font-size="100" class="ay">40<tspan textLength="55.6" lengthAdjust="spacingAndGlyphs">%</tspan></text>
<text transform="matrix(0.4288 0 0 0.5183 97.06 1908.28)" font-size="100" class="ay">20<tspan textLength="55.6" lengthAdjust="spacingAndGlyphs">%</tspan></text>
<text transform="matrix(0.4457 0 0 0.5183 119.22 2106.38)" font-size="100" class="ay">0<tspan textLength="55.6" lengthAdjust="spacingAndGlyphs">%</tspan></text>
<text transform="matrix(0.4304 0 0 0.4930 214.56 2155.51)" font-size="100" class="b"><tspan textLength="55.6" lengthAdjust="spacingAndGlyphs">H</tspan>23</text>
<text transform="matrix(0.4224 0 0 0.4930 310.03 2155.51)" font-size="100" class="b"><tspan textLength="55.6" lengthAdjust="spacingAndGlyphs">H</tspan>24</text>
<text transform="matrix(0.4277 0 0 0.4930 405.44 2155.51)" font-size="100" class="b"><tspan textLength="55.6" lengthAdjust="spacingAndGlyphs">H</tspan>25</text>
<text transform="matrix(0.4304 0 0 0.4930 500.85 2155.51)" font-size="100" class="b"><tspan textLength="55.6" lengthAdjust="spacingAndGlyphs">H</tspan>26</text>
<text transform="matrix(0.4331 0 0 0.4930 596.27 2155.51)" font-size="100" class="b"><tspan textLength="55.6" lengthAdjust="spacingAndGlyphs">H</tspan>27</text>
<text transform="matrix(0.4277 0 0 0.4930 691.73 2155.51)" font-size="100" class="b"><tspan textLength="55.6" lengthAdjust="spacingAndGlyphs">H</tspan>28</text>
<text transform="matrix(0.4304 0 0 0.4930 787.14 2155.51)" font-size="100" class="b"><tspan textLength="55.6" lengthAdjust="spacingAndGlyphs">H</tspan>29</text>
<text transform="matrix(0.4304 0 0 0.4930 882.57 2155.51)" font-size="100" class="b"><tspan textLength="55.6" lengthAdjust="spacingAndGlyphs">H</tspan>30</text>
<text transform="matrix(0.4039 0 0 0.4930 990.34 2155.51)" font-size="100" class="b"><tspan textLength="55.6" lengthAdjust="spacingAndGlyphs">R</tspan>1</text>
<text transform="matrix(0.4471 0 0 0.4930 1086.15 2155.51)" font-size="100" class="b"><tspan textLength="55.6" lengthAdjust="spacingAndGlyphs">R</tspan>2</text>
<text transform="matrix(0.4471 0 0 0.4930 1181.58 2155.51)" font-size="100" class="b"><tspan textLength="55.6" lengthAdjust="spacingAndGlyphs">R</tspan>3</text>
<text transform="matrix(0.4302 0 0 0.4930 1277.09 2155.51)" font-size="100" class="b"><tspan textLength="55.6" lengthAdjust="spacingAndGlyphs">R</tspan>4</text>
<text transform="matrix(0.4427 0 0 0.4930 1372.46 2155.51)" font-size="100" class="b"><tspan textLength="55.6" lengthAdjust="spacingAndGlyphs">R</tspan>5</text>
<text transform="matrix(0.4471 0 0 0.4930 1467.87 2155.51)" font-size="100" class="b"><tspan textLength="55.6" lengthAdjust="spacingAndGlyphs">R</tspan>6</text>
<text transform="matrix(0.4241 0 0 0.5085 1722.01 1116.69)" font-size="100" class="ay">100<tspan textLength="55.6" lengthAdjust="spacingAndGlyphs">%</tspan></text>
<text transform="matrix(0.4261 0 0 0.5085 1745.00 1313.91)" font-size="100" class="ay">80<tspan textLength="55.6" lengthAdjust="spacingAndGlyphs">%</tspan></text>
<text transform="matrix(0.4287 0 0 0.5085 1744.56 1511.13)" font-size="100" class="ay">60<tspan textLength="55.6" lengthAdjust="spacingAndGlyphs">%</tspan></text>
<text transform="matrix(0.4209 0 0 0.5085 1745.86 1708.35)" font-size="100" class="ay">40<tspan textLength="55.6" lengthAdjust="spacingAndGlyphs">%</tspan></text>
<text transform="matrix(0.4287 0 0 0.5085 1744.56 1905.57)" font-size="100" class="ay">20<tspan textLength="55.6" lengthAdjust="spacingAndGlyphs">%</tspan></text>
<text transform="matrix(0.4457 0 0 0.5085 1766.72 2102.79)" font-size="100" class="ay">0<tspan textLength="55.6" lengthAdjust="spacingAndGlyphs">%</tspan></text>
<text transform="matrix(0.4304 0 0 0.4887 1863.35 2149.21)" font-size="100" class="b"><tspan textLength="55.6" lengthAdjust="spacingAndGlyphs">H</tspan>23</text>
<text transform="matrix(0.4224 0 0 0.4887 1958.39 2149.21)" font-size="100" class="b"><tspan textLength="55.6" lengthAdjust="spacingAndGlyphs">H</tspan>24</text>
<text transform="matrix(0.4277 0 0 0.4887 2053.36 2149.21)" font-size="100" class="b"><tspan textLength="55.6" lengthAdjust="spacingAndGlyphs">H</tspan>25</text>
<text transform="matrix(0.4304 0 0 0.4887 2148.35 2149.21)" font-size="100" class="b"><tspan textLength="55.6" lengthAdjust="spacingAndGlyphs">H</tspan>26</text>
<text transform="matrix(0.4331 0 0 0.4887 2243.33 2149.21)" font-size="100" class="b"><tspan textLength="55.6" lengthAdjust="spacingAndGlyphs">H</tspan>27</text>
<text transform="matrix(0.4277 0 0 0.4887 2338.36 2149.21)" font-size="100" class="b"><tspan textLength="55.6" lengthAdjust="spacingAndGlyphs">H</tspan>28</text>
<text transform="matrix(0.4304 0 0 0.4887 2433.35 2149.21)" font-size="100" class="b"><tspan textLength="55.6" lengthAdjust="spacingAndGlyphs">H</tspan>29</text>
<text transform="matrix(0.4304 0 0 0.4887 2528.35 2149.21)" font-size="100" class="b"><tspan textLength="55.6" lengthAdjust="spacingAndGlyphs">H</tspan>30</text>
<text transform="matrix(0.4039 0 0 0.4887 2635.68 2149.21)" font-size="100" class="b"><tspan textLength="55.6" lengthAdjust="spacingAndGlyphs">R</tspan>1</text>
<text transform="matrix(0.4471 0 0 0.4887 2731.06 2149.21)" font-size="100" class="b"><tspan textLength="55.6" lengthAdjust="spacingAndGlyphs">R</tspan>2</text>
<text transform="matrix(0.4471 0 0 0.4887 2826.06 2149.21)" font-size="100" class="b"><tspan textLength="55.6" lengthAdjust="spacingAndGlyphs">R</tspan>3</text>
<text transform="matrix(0.4302 0 0 0.4887 2921.15 2149.21)" font-size="100" class="b"><tspan textLength="55.6" lengthAdjust="spacingAndGlyphs">R</tspan>4</text>
<text transform="matrix(0.4427 0 0 0.4887 3016.09 2149.21)" font-size="100" class="b"><tspan textLength="55.6" lengthAdjust="spacingAndGlyphs">R</tspan>5</text>
<text transform="matrix(0.4471 0 0 0.4887 3111.06 2149.21)" font-size="100" class="b"><tspan textLength="55.6" lengthAdjust="spacingAndGlyphs">R</tspan>6</text>
</g>
</svg>
</body></html>
